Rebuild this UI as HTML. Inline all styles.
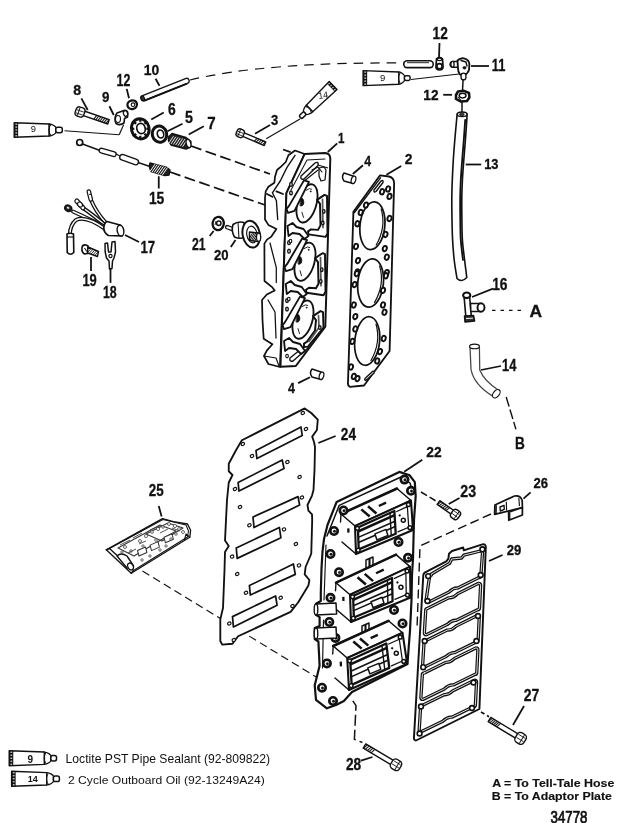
<!DOCTYPE html>
<html><head><meta charset="utf-8"><style>
html,body{margin:0;padding:0;background:#fff;}
svg{display:block;filter:grayscale(100%);}
text{font-family:"Liberation Sans", sans-serif;fill:#111;}
</style></head><body>
<svg width="640" height="823" viewBox="0 0 640 823">
<rect width="640" height="823" fill="#fff"/>
<path d="M190,80 Q265,62 404,63" fill="none" stroke="#111" stroke-width="1.2" stroke-dasharray="9.5 7"/>
<path d="M191,146 L270,174" fill="none" stroke="#111" stroke-width="1.7" stroke-dasharray="11 4.5"/>
<path d="M170,172 L265,205" fill="none" stroke="#111" stroke-width="1.7" stroke-dasharray="11 4.5"/>
<path d="M283,149.5 L302,156" fill="none" stroke="#111" stroke-width="1.7" stroke-dasharray="8 4"/>
<path d="M142.5,571 L317.5,677.8" fill="none" stroke="#111" stroke-width="1.15" stroke-dasharray="8 4.5"/>
<path d="M491,514 L420,546 L417,629" fill="none" stroke="#111" stroke-width="1.4" stroke-dasharray="9 4.5"/>
<path d="M352.8,700.8 L356,705.6 L354.4,739.3 L362.4,742.5" fill="none" stroke="#111" stroke-width="1.5" stroke-dasharray="11 4"/>
<path d="M481,712 L489,716.8" fill="none" stroke="#111" stroke-width="1.7" stroke-dasharray="4 3"/>
<path d="M421,492 L436,501" fill="none" stroke="#111" stroke-width="1.5" stroke-dasharray="7 3"/>
<path d="M492,310.4 L522,310.4" fill="none" stroke="#111" stroke-width="1.2" stroke-dasharray="3.5 5"/>
<path d="M506.2,397 L515.9,429.2" fill="none" stroke="#111" stroke-width="1.4" stroke-dasharray="10 3"/>
<line x1="143.5" y1="98" x2="186.5" y2="81" stroke="#111" stroke-width="6.6" stroke-linecap="round"/>
<line x1="143.5" y1="98" x2="186.5" y2="81" stroke="#fff" stroke-width="4.0" stroke-linecap="round"/>
<line x1="144" y1="100.8" x2="187" y2="83.6" stroke="#111" stroke-width="1.84"/>
<ellipse cx="142.8" cy="98.3" rx="1.6" ry="2.6" transform="rotate(-25 142.8 98.3)" fill="#333" stroke="#111" stroke-width="1.15"/>
<line x1="407.2" y1="64.2" x2="429.8" y2="64.2" stroke="#111" stroke-width="8.4" stroke-linecap="round"/>
<line x1="407.2" y1="64.2" x2="429.8" y2="64.2" stroke="#fff" stroke-width="5.2" stroke-linecap="round"/>
<line x1="407" y1="62.7" x2="429" y2="62.7" stroke="#111" stroke-width="0.92"/>
<path d="M436.5,59 Q439.5,56.5 442.5,59 L443,66 Q443.5,70 439.5,70 Q435.5,70 436,66 Z" fill="#fff" stroke="#111" stroke-width="1.72" stroke-linejoin="round" stroke-linecap="round" />
<ellipse cx="439.5" cy="66.2" rx="2.6" ry="2.6" transform="rotate(0 439.5 66.2)" fill="#fff" stroke="#111" stroke-width="1.61"/>
<ellipse cx="439.5" cy="59.3" rx="2.4" ry="1.3" transform="rotate(0 439.5 59.3)" fill="#fff" stroke="#111" stroke-width="1.26"/>
<line x1="453" y1="64.3" x2="457" y2="64.3" stroke="#111" stroke-width="7.2" stroke-linecap="round"/>
<line x1="453" y1="64.3" x2="457" y2="64.3" stroke="#fff" stroke-width="4.2" stroke-linecap="round"/>
<ellipse cx="452.5" cy="64.3" rx="1.6" ry="2.9" transform="rotate(0 452.5 64.3)" fill="#fff" stroke="#111" stroke-width="1.38"/>
<path d="M457.5,60.5 Q460,57.8 464,58.3 Q469,59.5 469.4,64 L469,70 Q467.5,74 464.5,75 L460,74.5 Q458,72 458,68.5 Z" fill="#fff" stroke="#111" stroke-width="1.84" stroke-linejoin="round" stroke-linecap="round" />
<path d="M461,60.5 L466,62 L467,66" fill="none" stroke="#111" stroke-width="1.38" stroke-linejoin="round" stroke-linecap="round" />
<ellipse cx="464.5" cy="67.8" rx="1.6" ry="1.3" transform="rotate(0 464.5 67.8)" fill="#111" stroke="#111" stroke-width="0.69"/>
<line x1="463.5" y1="75.5" x2="463.5" y2="77.5" stroke="#111" stroke-width="6.199999999999999" stroke-linecap="round"/>
<line x1="463.5" y1="75.5" x2="463.5" y2="77.5" stroke="#fff" stroke-width="3.4" stroke-linecap="round"/>
<line x1="463.1" y1="79.2" x2="462.5" y2="91" stroke="#111" stroke-width="1.49"/>
<path d="M456,95 L458,91.5 L464,90.8 L469,93 L469.4,97.5 L467,101 L460.5,101.4 L456,99 Z" fill="#fff" stroke="#111" stroke-width="2.53" stroke-linejoin="round" stroke-linecap="round" />
<ellipse cx="462.6" cy="95.6" rx="3.4" ry="2.3" transform="rotate(0 462.6 95.6)" fill="#fff" stroke="#111" stroke-width="1.49"/>
<line x1="458" y1="97" x2="461" y2="100.5" stroke="#111" stroke-width="1.15"/>
<g transform="rotate(0 363.1 70.6)"><path d="M363.1,70.6 L398.82000000000005,71.94999999999999 L398.82000000000005,84.25 L363.1,85.6 Z" fill="#fff" stroke="#111" stroke-width="1.4" stroke-linejoin="round"/><rect x="363.1" y="70.6" width="4.050000000000001" height="15" fill="#111"/><rect x="364.315" y="71.60" width="1.8225000000000005" height="1.0" fill="#fff"/><rect x="364.315" y="74.60" width="1.8225000000000005" height="1.0" fill="#fff"/><rect x="364.315" y="77.60" width="1.8225000000000005" height="1.0" fill="#fff"/><rect x="364.315" y="80.60" width="1.8225000000000005" height="1.0" fill="#fff"/><rect x="364.315" y="83.60" width="1.8225000000000005" height="1.0" fill="#fff"/><path d="M398.82000000000005,71.94999999999999 C401.64000000000004,71.94999999999999 404.46000000000004,75.19999999999999 404.46000000000004,75.69999999999999 L404.46000000000004,80.5 C404.46000000000004,81.0 401.64000000000004,84.25 398.82000000000005,84.25 Z" fill="#fff" stroke="#111" stroke-width="1.3" stroke-linejoin="round"/><path d="M400.32000000000005,72.74999999999999 C398.02000000000004,76.6 398.02000000000004,79.6 400.32000000000005,83.45" fill="none" stroke="#111" stroke-width="1.0"/><rect x="404.46000000000004" y="75.69999999999999" width="5.6400000000000015" height="4.8" rx="1.68" fill="#fff" stroke="#111" stroke-width="1.5"/><text x="382.74600000000004" y="81.425" font-size="9.5" text-anchor="middle" font-weight="normal">9</text></g>
<line x1="411" y1="79.5" x2="459" y2="74" stroke="#111" stroke-width="1.15"/>
<g transform="rotate(135.8 337 89.6)"><path d="M337,89.6 L369.904,90.60799999999999 L369.904,99.792 L337,100.8 Z" fill="#fff" stroke="#111" stroke-width="1.4" stroke-linejoin="round"/><rect x="337" y="89.6" width="3.024" height="11.2" fill="#111"/><rect x="337.9072" y="90.50" width="1.3608" height="1.0" fill="#fff"/><rect x="337.9072" y="93.30" width="1.3608" height="1.0" fill="#fff"/><rect x="337.9072" y="96.10" width="1.3608" height="1.0" fill="#fff"/><rect x="337.9072" y="98.90" width="1.3608" height="1.0" fill="#fff"/><path d="M369.904,90.60799999999999 C373.103,90.60799999999999 376.302,92.68399999999998 376.302,93.18399999999998 L376.302,97.216 C376.302,97.716 373.103,99.792 369.904,99.792 Z" fill="#fff" stroke="#111" stroke-width="1.3" stroke-linejoin="round"/><path d="M371.404,91.40799999999999 C369.104,94.08 369.104,96.32 371.404,98.992" fill="none" stroke="#111" stroke-width="1.0"/><rect x="376.302" y="93.18399999999998" width="6.397999999999999" height="4.032" rx="1.4112" fill="#fff" stroke="#111" stroke-width="1.5"/><text x="350.81968" y="98.35" font-size="9" text-anchor="middle" font-weight="normal" transform="rotate(-143.8 350.81968 95.19999999999999)">14</text></g>
<g transform="rotate(0 14.2 122.7)"><path d="M14.2,122.7 L49.216800000000006,124.014 L49.216800000000006,135.98600000000002 L14.2,137.3 Z" fill="#fff" stroke="#111" stroke-width="1.4" stroke-linejoin="round"/><rect x="14.2" y="122.7" width="3.942" height="14.6" fill="#111"/><rect x="15.3826" y="123.66" width="1.7739" height="1.0" fill="#fff"/><rect x="15.3826" y="126.58" width="1.7739" height="1.0" fill="#fff"/><rect x="15.3826" y="129.50" width="1.7739" height="1.0" fill="#fff"/><rect x="15.3826" y="132.42" width="1.7739" height="1.0" fill="#fff"/><rect x="15.3826" y="135.34" width="1.7739" height="1.0" fill="#fff"/><path d="M49.216800000000006,124.014 C52.51165,124.014 55.80650000000001,126.872 55.80650000000001,127.372 L55.80650000000001,132.628 C55.80650000000001,133.128 52.51165,135.98600000000002 49.216800000000006,135.98600000000002 Z" fill="#fff" stroke="#111" stroke-width="1.3" stroke-linejoin="round"/><path d="M50.716800000000006,124.814 C48.41680000000001,128.54 48.41680000000001,131.46 50.716800000000006,135.186" fill="none" stroke="#111" stroke-width="1.0"/><rect x="55.80650000000001" y="127.372" width="6.493499999999997" height="5.255999999999999" rx="1.8395999999999997" fill="#fff" stroke="#111" stroke-width="1.5"/><text x="33.319172800000004" y="131.59" font-size="9.4" text-anchor="middle" font-weight="normal">9</text></g>
<line x1="64.5" y1="130.75" x2="119.2" y2="134.7" stroke="#111" stroke-width="1.15"/>
<line x1="119.2" y1="134.7" x2="123.6" y2="124.8" stroke="#111" stroke-width="1.15"/>
<path d="M82.65646023573606,115.34562684947875 L107.752103251143,123.9750058512678 L109.247896748857,119.6249941487322 L84.15225373345007,110.99561514694315 Z" fill="#fff" stroke="#111" stroke-width="1.38" stroke-linejoin="round" stroke-linecap="round" />
<line x1="93.76343661964613" y1="119.16486785166536" x2="96.77227766606815" y2="115.33513214833464" stroke="#111" stroke-width="1.03"/>
<line x1="95.79915090536042" y1="119.86486785166537" x2="98.80799195178244" y2="116.03513214833464" stroke="#111" stroke-width="1.03"/>
<line x1="97.83486519107471" y1="120.56486785166537" x2="100.84370623749673" y2="116.73513214833464" stroke="#111" stroke-width="1.03"/>
<line x1="99.87057947678899" y1="121.26486785166536" x2="102.87942052321101" y2="117.43513214833463" stroke="#111" stroke-width="1.03"/>
<line x1="101.90629376250327" y1="121.96486785166536" x2="104.91513480892529" y2="118.13513214833463" stroke="#111" stroke-width="1.03"/>
<line x1="103.94200804821756" y1="122.66486785166536" x2="106.95084909463958" y2="118.83513214833464" stroke="#111" stroke-width="1.03"/>
<line x1="105.97772233393185" y1="123.36486785166537" x2="108.98656338035387" y2="119.53513214833464" stroke="#111" stroke-width="1.03"/>
<g transform="rotate(19.0 80 112)"><rect x="75.5" y="107.25" width="9" height="9.5" rx="3.15" fill="#fff" stroke="#111" stroke-width="1.4"/><line x1="78.65" y1="107.75" x2="78.65" y2="116.25" stroke="#111" stroke-width="0.9"/><line x1="76.5" y1="110.86" x2="83.5" y2="110.86" stroke="#111" stroke-width="0.8"/><line x1="76.5" y1="114.09" x2="83.5" y2="114.09" stroke="#111" stroke-width="0.8"/></g>
<path d="M117,113 L124,110.5 Q127,110 127.8,113 L127.5,117 L124.5,118.5 L124,123 Q120,126 116,123.5 Q113.5,118 117,113 Z" fill="#fff" stroke="#111" stroke-width="1.61" stroke-linejoin="round" stroke-linecap="round" />
<ellipse cx="125.5" cy="113.5" rx="2" ry="2.8" transform="rotate(-20 125.5 113.5)" fill="#fff" stroke="#111" stroke-width="1.26"/>
<ellipse cx="118" cy="119" rx="2.5" ry="3.5" transform="rotate(0 118 119)" fill="#fff" stroke="#111" stroke-width="1.15"/>
<ellipse cx="132.2" cy="104.7" rx="4.8" ry="4.3" transform="rotate(-15 132.2 104.7)" fill="#fff" stroke="#111" stroke-width="2.30"/>
<ellipse cx="133" cy="104.7" rx="1.8" ry="1.8" transform="rotate(0 133 104.7)" fill="#fff" stroke="#111" stroke-width="1.15"/>
<ellipse cx="140.3" cy="128.8" rx="8.8" ry="10.2" transform="rotate(-15 140.3 128.8)" fill="#fff" stroke="#111" stroke-width="2.99"/>
<ellipse cx="141" cy="128.5" rx="4.2" ry="5.2" transform="rotate(-15 141 128.5)" fill="#fff" stroke="#111" stroke-width="1.72"/>
<line x1="146.3" y1="128.8" x2="149.8" y2="128.8" stroke="#111" stroke-width="2.30"/>
<line x1="144.5426406871193" y1="133.74974746830586" x2="147.0175144212722" y2="136.43675323681472" stroke="#111" stroke-width="2.30"/>
<line x1="140.3" y1="135.8" x2="140.3" y2="139.60000000000002" stroke="#111" stroke-width="2.30"/>
<line x1="136.05735931288072" y1="133.74974746830586" x2="133.5824855787278" y2="136.43675323681472" stroke="#111" stroke-width="2.30"/>
<line x1="134.3" y1="128.8" x2="130.8" y2="128.8" stroke="#111" stroke-width="2.30"/>
<line x1="136.05735931288072" y1="123.85025253169418" x2="133.5824855787278" y2="121.1632467631853" stroke="#111" stroke-width="2.30"/>
<line x1="140.3" y1="121.80000000000001" x2="140.3" y2="118.00000000000001" stroke="#111" stroke-width="2.30"/>
<line x1="144.5426406871193" y1="123.85025253169418" x2="147.0175144212722" y2="121.1632467631853" stroke="#111" stroke-width="2.30"/>
<ellipse cx="159.5" cy="134.2" rx="7.2" ry="8.2" transform="rotate(-15 159.5 134.2)" fill="#fff" stroke="#111" stroke-width="2.99"/>
<ellipse cx="160.5" cy="134" rx="3.2" ry="4.0" transform="rotate(-15 160.5 134)" fill="#fff" stroke="#111" stroke-width="1.61"/>
<path d="M168.5,137 L172,133.5 L186,137.5 L191,141.5 L190.5,147 L186,149 L171,145 L168.5,141 Z" fill="#222" stroke="#111" stroke-width="1.38" stroke-linejoin="round" stroke-linecap="round" />
<line x1="168.81" y1="143.33" x2="173.47" y2="136.24" stroke="#fff" stroke-width="0.9"/>
<line x1="171.10" y1="143.90" x2="175.76" y2="136.82" stroke="#fff" stroke-width="0.9"/>
<line x1="173.39" y1="144.47" x2="178.04" y2="137.39" stroke="#fff" stroke-width="0.9"/>
<line x1="175.67" y1="145.04" x2="180.33" y2="137.96" stroke="#fff" stroke-width="0.9"/>
<line x1="177.96" y1="145.61" x2="182.61" y2="138.53" stroke="#fff" stroke-width="0.9"/>
<line x1="180.24" y1="146.18" x2="184.90" y2="139.10" stroke="#fff" stroke-width="0.9"/>
<line x1="182.53" y1="146.76" x2="187.19" y2="139.67" stroke="#fff" stroke-width="0.9"/>
<ellipse cx="188.5" cy="143.5" rx="2.2" ry="4.2" transform="rotate(-15 188.5 143.5)" fill="#fff" stroke="#111" stroke-width="1.26"/>
<circle cx="79.7" cy="142.5" r="3.0" fill="#fff" stroke="#111" stroke-width="1.72"/>
<line x1="82.5" y1="144" x2="100" y2="150.5" stroke="#111" stroke-width="1.38"/>
<line x1="101.5" y1="150.6" x2="113.8" y2="154.2" stroke="#111" stroke-width="5.9" stroke-linecap="round"/>
<line x1="101.5" y1="150.6" x2="113.8" y2="154.2" stroke="#fff" stroke-width="3.3" stroke-linecap="round"/>
<line x1="116" y1="154" x2="121" y2="156.5" stroke="#111" stroke-width="1.38"/>
<line x1="122.5" y1="157.3" x2="135.7" y2="162" stroke="#111" stroke-width="6.800000000000001" stroke-linecap="round"/>
<line x1="122.5" y1="157.3" x2="135.7" y2="162" stroke="#fff" stroke-width="4.2" stroke-linecap="round"/>
<line x1="138" y1="162.5" x2="150" y2="166.5" stroke="#111" stroke-width="1.38"/>
<path d="M150,163 L167,167.5 L170,170 L169,175 L165,175.5 L151,171.5 Q148.5,167 150,163 Z" fill="#222" stroke="#111" stroke-width="1.38" stroke-linejoin="round" stroke-linecap="round" />
<line x1="149.97" y1="171.49" x2="155.10" y2="164.08" stroke="#fff" stroke-width="1.0"/>
<line x1="152.04" y1="172.06" x2="157.17" y2="164.66" stroke="#fff" stroke-width="1.0"/>
<line x1="154.11" y1="172.63" x2="159.24" y2="165.23" stroke="#fff" stroke-width="1.0"/>
<line x1="156.19" y1="173.20" x2="161.31" y2="165.80" stroke="#fff" stroke-width="1.0"/>
<line x1="158.26" y1="173.77" x2="163.39" y2="166.37" stroke="#fff" stroke-width="1.0"/>
<line x1="160.33" y1="174.34" x2="165.46" y2="166.94" stroke="#fff" stroke-width="1.0"/>
<line x1="162.40" y1="174.92" x2="167.53" y2="167.51" stroke="#fff" stroke-width="1.0"/>
<path d="M106,223 Q96,212 91,200" fill="none" stroke="#111" stroke-width="3.91" stroke-linejoin="round" stroke-linecap="round" />
<path d="M106,223 Q96,212 91,200" fill="none" stroke="#fff" stroke-width="1.38" stroke-linejoin="round" stroke-linecap="round" />
<path d="M105.5,225.5 Q92,214 83,208" fill="none" stroke="#111" stroke-width="3.91" stroke-linejoin="round" stroke-linecap="round" />
<path d="M105.5,225.5 Q92,214 83,208" fill="none" stroke="#fff" stroke-width="1.38" stroke-linejoin="round" stroke-linecap="round" />
<path d="M105.5,227 Q85,217 73,211.5" fill="none" stroke="#111" stroke-width="3.91" stroke-linejoin="round" stroke-linecap="round" />
<path d="M105.5,227 Q85,217 73,211.5" fill="none" stroke="#fff" stroke-width="1.38" stroke-linejoin="round" stroke-linecap="round" />
<path d="M106,229.5 Q86,215 76,220 Q70,225 69.8,235" fill="none" stroke="#111" stroke-width="4.14" stroke-linejoin="round" stroke-linecap="round" />
<path d="M106,229.5 Q86,215 76,220 Q70,225 69.8,235" fill="none" stroke="#fff" stroke-width="1.49" stroke-linejoin="round" stroke-linecap="round" />
<line x1="88.8" y1="191.5" x2="90.8" y2="199.5" stroke="#111" stroke-width="4.6" stroke-linecap="round"/>
<line x1="88.8" y1="191.5" x2="90.8" y2="199.5" stroke="#fff" stroke-width="2.2" stroke-linecap="round"/>
<line x1="89.2" y1="194.5" x2="91.2" y2="194" stroke="#111" stroke-width="1.15"/>
<line x1="76.8" y1="201" x2="83" y2="207.8" stroke="#111" stroke-width="5.0" stroke-linecap="round"/>
<line x1="76.8" y1="201" x2="83" y2="207.8" stroke="#fff" stroke-width="2.6" stroke-linecap="round"/>
<ellipse cx="80" cy="204.5" rx="2.2" ry="2.8" transform="rotate(-40 80 204.5)" fill="#fff" stroke="#111" stroke-width="1.15"/>
<ellipse cx="68.2" cy="208.2" rx="3.6" ry="3.0" transform="rotate(30 68.2 208.2)" fill="#222" stroke="#111" stroke-width="1.38"/>
<ellipse cx="68" cy="207.8" rx="1.5" ry="1.1" transform="rotate(30 68 207.8)" fill="#fff" stroke="#111" stroke-width="0.46"/>
<path d="M67,234 Q70,232.5 73.5,234 L73.8,252.5 Q70.5,256 67.2,252.5 Z" fill="#fff" stroke="#111" stroke-width="1.61" stroke-linejoin="round" stroke-linecap="round" />
<line x1="67.2" y1="237" x2="73.6" y2="237" stroke="#111" stroke-width="1.15"/>
<path d="M107,221.5 L120,225 Q125,229 122,235.8 L108.5,235.5 Q104,233 103.8,228 Q104,223 107,221.5 Z" fill="#fff" stroke="#111" stroke-width="1.72" stroke-linejoin="round" stroke-linecap="round" />
<ellipse cx="120.5" cy="230.6" rx="3.3" ry="5.5" transform="rotate(-10 120.5 230.6)" fill="#fff" stroke="#111" stroke-width="1.49"/>
<path d="M82,247.5 Q82.5,244.5 86,245 L88,246 L87.5,253.5 L84.5,254 Q81.3,252 82,247.5 Z" fill="#fff" stroke="#111" stroke-width="1.61" stroke-linejoin="round" stroke-linecap="round" />
<path d="M88,247 L98.5,251.5 L97.5,256.5 L87.5,253 Z" fill="#fff" stroke="#111" stroke-width="1.38" stroke-linejoin="round" stroke-linecap="round" />
<line x1="87.59" y1="252.33" x2="91.21" y2="248.47" stroke="#111" stroke-width="0.9"/>
<line x1="89.39" y1="253.13" x2="93.01" y2="249.27" stroke="#111" stroke-width="0.9"/>
<line x1="91.19" y1="253.93" x2="94.81" y2="250.07" stroke="#111" stroke-width="0.9"/>
<line x1="92.99" y1="254.73" x2="96.61" y2="250.87" stroke="#111" stroke-width="0.9"/>
<line x1="94.79" y1="255.53" x2="98.41" y2="251.67" stroke="#111" stroke-width="0.9"/>
<line x1="84.5" y1="248" x2="86.8" y2="251.5" stroke="#111" stroke-width="1.03"/>
<path d="M105,243.5 L107.5,243 L108.5,252 L111,252 L112,242 L115,241.5 L115.5,252 L114,258 L112.5,261 L112,268.5 L109.5,269 L109,261 L106.5,258 L105.2,252 Z" fill="#fff" stroke="#111" stroke-width="1.49" stroke-linejoin="round" stroke-linecap="round" />
<circle cx="110.5" cy="256" r="1.6" fill="#fff" stroke="#111" stroke-width="1.15"/>
<ellipse cx="218.2" cy="223.5" rx="5.6" ry="6.6" transform="rotate(10 218.2 223.5)" fill="#fff" stroke="#111" stroke-width="2.30"/>
<circle cx="218.8" cy="223.2" r="2.2" fill="#fff" stroke="#111" stroke-width="1.49"/>
<line x1="216" y1="221" x2="215" y2="225" stroke="#111" stroke-width="0.92"/>
<line x1="227.2" y1="227.2" x2="231.8" y2="228.8" stroke="#111" stroke-width="4.6" stroke-linecap="round"/>
<line x1="227.2" y1="227.2" x2="231.8" y2="228.8" stroke="#fff" stroke-width="2.0" stroke-linecap="round"/>
<path d="M233,224.5 Q238,221 244,222.5 L245.5,237 Q240,239.5 234.5,237 Q231,231 233,224.5 Z" fill="#fff" stroke="#111" stroke-width="1.61" stroke-linejoin="round" stroke-linecap="round" />
<line x1="238" y1="222" x2="239" y2="238.5" stroke="#111" stroke-width="1.03"/>
<ellipse cx="251.2" cy="234.2" rx="8.6" ry="13.5" transform="rotate(-10 251.2 234.2)" fill="#fff" stroke="#111" stroke-width="1.95"/>
<ellipse cx="252" cy="234.5" rx="5.2" ry="8.4" transform="rotate(-10 252 234.5)" fill="#fff" stroke="#111" stroke-width="1.15"/>
<path d="M249.5,232 L258.5,233 Q262.5,237 258.5,241.5 L249.5,240.5 Z" fill="#fff" stroke="#111" stroke-width="1.49" stroke-linejoin="round" stroke-linecap="round" />
<line x1="248.56" y1="240.06" x2="252.94" y2="232.20" stroke="#111" stroke-width="1.0"/>
<line x1="250.06" y1="240.32" x2="254.44" y2="232.46" stroke="#111" stroke-width="1.0"/>
<line x1="251.56" y1="240.58" x2="255.94" y2="232.72" stroke="#111" stroke-width="1.0"/>
<line x1="253.06" y1="240.84" x2="257.44" y2="232.98" stroke="#111" stroke-width="1.0"/>
<line x1="254.56" y1="241.10" x2="258.94" y2="233.24" stroke="#111" stroke-width="1.0"/>
<ellipse cx="258.6" cy="237.2" rx="2.1" ry="4.2" transform="rotate(0 258.6 237.2)" fill="#fff" stroke="#111" stroke-width="1.26"/>
<path d="M242.1554062884969,136.15643133640995 L264.2336029431675,145.59307990655145 L265.7663970568325,142.00692009344857 L243.6882004021618,132.57027152330707 Z" fill="#fff" stroke="#111" stroke-width="1.38" stroke-linejoin="round" stroke-linecap="round" />
<line x1="254.12358041740285" y1="141.27186060118427" x2="257.12761958259716" y2="138.31453939881575" stroke="#111" stroke-width="1.03"/>
<line x1="256.2067804174028" y1="142.16226060118427" x2="259.2108195825972" y2="139.20493939881575" stroke="#111" stroke-width="1.03"/>
<line x1="258.2899804174028" y1="143.05266060118427" x2="261.2940195825972" y2="140.09533939881575" stroke="#111" stroke-width="1.03"/>
<line x1="260.3731804174028" y1="143.94306060118427" x2="263.3772195825972" y2="140.98573939881575" stroke="#111" stroke-width="1.03"/>
<line x1="262.4563804174028" y1="144.83346060118427" x2="265.4604195825972" y2="141.87613939881575" stroke="#111" stroke-width="1.03"/>
<g transform="rotate(23.1 240.2 133.2)"><rect x="236.5" y="129.1" width="7.4" height="8.2" rx="2.59" fill="#fff" stroke="#111" stroke-width="1.4"/><line x1="239.09" y1="129.6" x2="239.09" y2="136.79999999999998" stroke="#111" stroke-width="0.9"/><line x1="237.5" y1="132.21599999999998" x2="242.89999999999998" y2="132.21599999999998" stroke="#111" stroke-width="0.8"/><line x1="237.5" y1="135.004" x2="242.89999999999998" y2="135.004" stroke="#111" stroke-width="0.8"/></g>
<line x1="266.25" y1="138.75" x2="300" y2="119" stroke="#111" stroke-width="1.15"/>
<path d="M304.6,154 L295,150.5 L288.4,155.3 L285.75,162 L281,166.7 L277,170 L275,176.7 L274.4,182.75 L268.4,186.8 L265.7,191.4 L265,198 L265,219.5 L268.4,224.9 L276.4,228.9 L271,236.9 L267,239.6 L264.4,243.6 L264.5,281 L272.4,287.4 L274.7,290.5 L266.8,294.5 L262,300 L262.5,320 L263.7,338.7 L272.4,344.3 L266.8,350.6 L264,356 L268.4,364 L280,367 L286.4,193.2 Z" fill="#fff" stroke="#111" stroke-width="1.72" stroke-linejoin="round" stroke-linecap="round" />
<path d="M295,155.3 L287,167.4 L280.4,180.75 L272.4,192.8 L276.4,200.8 L277.7,219.5" fill="none" stroke="#111" stroke-width="1.38" stroke-linejoin="round" stroke-linecap="round" />
<path d="M270,243 L276.3,267.6 L276.3,282.6" fill="none" stroke="#111" stroke-width="1.26" stroke-linejoin="round" stroke-linecap="round" />
<path d="M268,300 L275,312 L276,338" fill="none" stroke="#111" stroke-width="1.26" stroke-linejoin="round" stroke-linecap="round" />
<path d="M264,356 L276,358 L279,366" fill="none" stroke="#111" stroke-width="1.15" stroke-linejoin="round" stroke-linecap="round" />
<path d="M267,194 L272.4,196.8" fill="none" stroke="#111" stroke-width="1.84" stroke-linejoin="round" stroke-linecap="round" />
<path d="M276.4,191.4 L283,194" fill="none" stroke="#111" stroke-width="1.84" stroke-linejoin="round" stroke-linecap="round" />
<path d="M304.6,154 L325,153 Q330.5,153.5 330.3,159 L325.3,326.7 L295.8,366 L280.5,366.8 L286.4,193.2 Z" fill="#fff" stroke="#111" stroke-width="1.95" stroke-linejoin="round" stroke-linecap="round" />
<path d="M291,190 L307,160 L325,159" fill="none" stroke="#111" stroke-width="1.03" stroke-linejoin="round" stroke-linecap="round" />
<path d="M301,176 L315,163 Q319,161 318,165.5 L304,179 Q300,180 301,176 Z" fill="#fff" stroke="#111" stroke-width="1.38" stroke-linejoin="round" stroke-linecap="round" />
<path d="M303,182 L318,170" fill="none" stroke="#111" stroke-width="1.15" stroke-linejoin="round" stroke-linecap="round" />
<path d="M290,358 L306,345 Q310,343 308,348 L293,361 Q289,362 290,358 Z" fill="#fff" stroke="#111" stroke-width="1.38" stroke-linejoin="round" stroke-linecap="round" />
<ellipse cx="307" cy="203.4" rx="9.4" ry="19.7" transform="rotate(16 307 203.4)" fill="#fff" stroke="#111" stroke-width="1.84"/>
<path d="M306,190.4 Q310,187.4 312,189.4" fill="none" stroke="#111" stroke-width="0.9"/>
<path d="M300.5,197.9 Q303.5,197.4 303.8,202.4 Q303.5,206.4 300.5,205.9 Z" fill="#111" stroke="#111" stroke-width="0.92" stroke-linejoin="round" stroke-linecap="round" />
<circle cx="310.7" cy="191.4" r="0.7" fill="#111" stroke="#111" stroke-width="0.46"/>
<path d="M302,212.4 L303.5,217.4" fill="none" stroke="#111" stroke-width="0.92" stroke-linejoin="round" stroke-linecap="round" />
<path d="M304,180.4 L309,181.9 L294.5,210.9 L288,212.9 L286.5,208.9 L289,205.9 Z" fill="#fff" stroke="#111" stroke-width="1.84" stroke-linejoin="round" stroke-linecap="round" />
<path d="M317,199.9 L324.5,194.9 L327,195.9 L327.5,233.4 L325.5,236.9 L308.5,234.4 L308,231.4 L311,229.4 L318,229.9 L320.5,225.4 L320,203.9 Z" fill="#fff" stroke="#111" stroke-width="1.95" stroke-linejoin="round" stroke-linecap="round" />
<path d="M322.5,199.4 L323,227.4" fill="none" stroke="#555" stroke-width="1.72" stroke-linejoin="round" stroke-linecap="round" />
<ellipse cx="291" cy="184.4" rx="1.3" ry="1.9" transform="rotate(0 291 184.4)" fill="#fff" stroke="#111" stroke-width="1.38"/>
<ellipse cx="291" cy="192.9" rx="1.3" ry="1.9" transform="rotate(0 291 192.9)" fill="#fff" stroke="#111" stroke-width="1.38"/>
<ellipse cx="323.8" cy="211.4" rx="1.2" ry="1.8" transform="rotate(0 323.8 211.4)" fill="#fff" stroke="#111" stroke-width="1.38"/>
<ellipse cx="322.8" cy="223.1" rx="1.2" ry="1.8" transform="rotate(0 322.8 223.1)" fill="#fff" stroke="#111" stroke-width="1.38"/>
<ellipse cx="305" cy="261.7" rx="9.4" ry="19.7" transform="rotate(16 305 261.7)" fill="#fff" stroke="#111" stroke-width="1.84"/>
<path d="M304,248.7 Q308,245.7 310,247.7" fill="none" stroke="#111" stroke-width="0.9"/>
<path d="M298.5,256.2 Q301.5,255.7 301.8,260.7 Q301.5,264.7 298.5,264.2 Z" fill="#111" stroke="#111" stroke-width="0.92" stroke-linejoin="round" stroke-linecap="round" />
<circle cx="308.7" cy="249.7" r="0.7" fill="#111" stroke="#111" stroke-width="0.46"/>
<path d="M300,270.7 L301.5,275.7" fill="none" stroke="#111" stroke-width="0.92" stroke-linejoin="round" stroke-linecap="round" />
<path d="M302,238.7 L307,240.2 L292.5,269.2 L286,271.2 L284.5,267.2 L287,264.2 Z" fill="#fff" stroke="#111" stroke-width="1.84" stroke-linejoin="round" stroke-linecap="round" />
<path d="M315,258.2 L322.5,253.2 L325,254.2 L325.5,291.7 L323.5,295.2 L306.5,292.7 L306,289.7 L309,287.7 L316,288.2 L318.5,283.7 L318,262.2 Z" fill="#fff" stroke="#111" stroke-width="1.95" stroke-linejoin="round" stroke-linecap="round" />
<path d="M320.5,257.7 L321,285.7" fill="none" stroke="#555" stroke-width="1.72" stroke-linejoin="round" stroke-linecap="round" />
<ellipse cx="289" cy="242.7" rx="1.3" ry="1.9" transform="rotate(0 289 242.7)" fill="#fff" stroke="#111" stroke-width="1.38"/>
<ellipse cx="289" cy="251.2" rx="1.3" ry="1.9" transform="rotate(0 289 251.2)" fill="#fff" stroke="#111" stroke-width="1.38"/>
<ellipse cx="321.8" cy="269.7" rx="1.2" ry="1.8" transform="rotate(0 321.8 269.7)" fill="#fff" stroke="#111" stroke-width="1.38"/>
<ellipse cx="320.8" cy="281.4" rx="1.2" ry="1.8" transform="rotate(0 320.8 281.4)" fill="#fff" stroke="#111" stroke-width="1.38"/>
<ellipse cx="303" cy="319.6" rx="9.4" ry="19.7" transform="rotate(16 303 319.6)" fill="#fff" stroke="#111" stroke-width="1.84"/>
<path d="M302,306.6 Q306,303.6 308,305.6" fill="none" stroke="#111" stroke-width="0.9"/>
<path d="M296.5,314.1 Q299.5,313.6 299.8,318.6 Q299.5,322.6 296.5,322.1 Z" fill="#111" stroke="#111" stroke-width="0.92" stroke-linejoin="round" stroke-linecap="round" />
<circle cx="306.7" cy="307.6" r="0.7" fill="#111" stroke="#111" stroke-width="0.46"/>
<path d="M298,328.6 L299.5,333.6" fill="none" stroke="#111" stroke-width="0.92" stroke-linejoin="round" stroke-linecap="round" />
<path d="M300,296.6 L305,298.1 L290.5,327.1 L284,329.1 L282.5,325.1 L285,322.1 Z" fill="#fff" stroke="#111" stroke-width="1.84" stroke-linejoin="round" stroke-linecap="round" />
<path d="M313,316.1 L320.5,311.1 L323,312.1 L323.5,327.6 L308,346.6 L304,347.1 L304,343.6 L307,341.6 L315,330.6 L316,320.1 Z" fill="#fff" stroke="#111" stroke-width="1.95" stroke-linejoin="round" stroke-linecap="round" />
<path d="M318.5,315.6 L319,327.6 L309,341.6" fill="none" stroke="#555" stroke-width="1.72" stroke-linejoin="round" stroke-linecap="round" />
<ellipse cx="287" cy="300.6" rx="1.3" ry="1.9" transform="rotate(0 287 300.6)" fill="#fff" stroke="#111" stroke-width="1.38"/>
<ellipse cx="287" cy="309.1" rx="1.3" ry="1.9" transform="rotate(0 287 309.1)" fill="#fff" stroke="#111" stroke-width="1.38"/>
<ellipse cx="319.8" cy="327.6" rx="1.2" ry="1.8" transform="rotate(0 319.8 327.6)" fill="#fff" stroke="#111" stroke-width="1.38"/>
<path d="M319,168 L324,167 L326,170 L325,180 L321,181 L319,176 Z" fill="#fff" stroke="#111" stroke-width="1.26" stroke-linejoin="round" stroke-linecap="round" />
<path d="M312,170 L318,167 L322,172" fill="none" stroke="#111" stroke-width="1.15" stroke-linejoin="round" stroke-linecap="round" />
<line x1="318" y1="165" x2="328" y2="168" stroke="#111" stroke-width="1.15"/>
<path d="M344,173 L353,176 Q356,180 353,183.5 L344,181 Q341,177 344,173 Z" fill="#fff" stroke="#111" stroke-width="1.49" stroke-linejoin="round" stroke-linecap="round" />
<ellipse cx="353.5" cy="179.8" rx="2.2" ry="3.8" transform="rotate(15 353.5 179.8)" fill="#fff" stroke="#111" stroke-width="1.26"/>
<path d="M312,369 L321,372 Q324,376 321,379.5 L312,377 Q309,373 312,369 Z" fill="#fff" stroke="#111" stroke-width="1.49" stroke-linejoin="round" stroke-linecap="round" />
<ellipse cx="321.5" cy="375.8" rx="2.2" ry="3.8" transform="rotate(15 321.5 375.8)" fill="#fff" stroke="#111" stroke-width="1.26"/>
<path d="M287.5,226 L292.5,223 L296.5,227 L303.5,229 L308.5,236 L304.5,239 L299.5,234 L292.5,233 L288.5,236 Z" fill="#fff" stroke="#111" stroke-width="1.84" stroke-linejoin="round" stroke-linecap="round" />
<ellipse cx="290.5" cy="241" rx="1.3" ry="1.8" transform="rotate(0 290.5 241)" fill="#fff" stroke="#111" stroke-width="1.15"/>
<path d="M285.76,284 L290.76,281 L294.76,285 L301.76,287 L306.76,294 L302.76,297 L297.76,292 L290.76,291 L286.76,294 Z" fill="#fff" stroke="#111" stroke-width="1.84" stroke-linejoin="round" stroke-linecap="round" />
<ellipse cx="288.76" cy="299" rx="1.3" ry="1.8" transform="rotate(0 288.76 299)" fill="#fff" stroke="#111" stroke-width="1.15"/>
<path d="M284.05,341 L289.05,338 L293.05,342 L300.05,344 L305.05,351 L301.05,354 L296.05,349 L289.05,348 L285.05,351 Z" fill="#fff" stroke="#111" stroke-width="1.84" stroke-linejoin="round" stroke-linecap="round" />
<ellipse cx="287.05" cy="356" rx="1.3" ry="1.8" transform="rotate(0 287.05 356)" fill="#fff" stroke="#111" stroke-width="1.15"/>
<path d="M380.1,175.3 L389,176.5 Q394.5,178 394.1,184 L389.6,351 L364,385.5 L350,386.8 Q347.5,386 348,382 L353.4,211.8 Z" fill="#fff" stroke="#111" stroke-width="1.84" stroke-linejoin="round" stroke-linecap="round" />
<path d="M380.5,177.8 L354.5,212.5" fill="none" stroke="#111" stroke-width="1.38" stroke-linejoin="round" stroke-linecap="round" />
<ellipse cx="372.4" cy="225.8" rx="12.4" ry="24" transform="rotate(6 372.4 225.8)" fill="#fff" stroke="#111" stroke-width="1.72"/>
<path d="M379.21999999999997,207.8 Q386.65999999999997,225.8 377.97999999999996,245.0" fill="none" stroke="#111" stroke-width="1.2" transform="rotate(6 372.4 225.8)"/>
<ellipse cx="370.6" cy="283" rx="12.8" ry="24.2" transform="rotate(6 370.6 283)" fill="#fff" stroke="#111" stroke-width="1.72"/>
<path d="M377.64000000000004,264.85 Q385.32000000000005,283 376.36,302.36" fill="none" stroke="#111" stroke-width="1.2" transform="rotate(6 370.6 283)"/>
<ellipse cx="367.2" cy="341" rx="12.4" ry="24.4" transform="rotate(6 367.2 341)" fill="#fff" stroke="#111" stroke-width="1.72"/>
<path d="M374.02,322.7 Q381.46,341 372.78,360.52" fill="none" stroke="#111" stroke-width="1.2" transform="rotate(6 367.2 341)"/>
<ellipse cx="382.1" cy="191.7" rx="2.0" ry="2.7" transform="rotate(15 382.1 191.7)" fill="#fff" stroke="#111" stroke-width="1.95"/>
<ellipse cx="388.1" cy="189" rx="2.0" ry="2.7" transform="rotate(15 388.1 189)" fill="#fff" stroke="#111" stroke-width="1.95"/>
<ellipse cx="389.5" cy="196.4" rx="2.0" ry="2.7" transform="rotate(15 389.5 196.4)" fill="#fff" stroke="#111" stroke-width="1.95"/>
<ellipse cx="366" cy="205.1" rx="2.0" ry="2.7" transform="rotate(15 366 205.1)" fill="#fff" stroke="#111" stroke-width="1.95"/>
<ellipse cx="360.7" cy="212.5" rx="2.0" ry="2.7" transform="rotate(15 360.7 212.5)" fill="#fff" stroke="#111" stroke-width="1.95"/>
<ellipse cx="357.4" cy="223.8" rx="2.0" ry="2.7" transform="rotate(15 357.4 223.8)" fill="#fff" stroke="#111" stroke-width="1.95"/>
<ellipse cx="389.5" cy="218.5" rx="2.0" ry="2.7" transform="rotate(15 389.5 218.5)" fill="#fff" stroke="#111" stroke-width="1.95"/>
<ellipse cx="385.5" cy="234.5" rx="2.0" ry="2.7" transform="rotate(15 385.5 234.5)" fill="#fff" stroke="#111" stroke-width="1.95"/>
<ellipse cx="356" cy="246.5" rx="2.0" ry="2.7" transform="rotate(15 356 246.5)" fill="#fff" stroke="#111" stroke-width="1.95"/>
<ellipse cx="384.8" cy="248.6" rx="2.0" ry="2.7" transform="rotate(15 384.8 248.6)" fill="#fff" stroke="#111" stroke-width="1.95"/>
<ellipse cx="386.8" cy="257.2" rx="2.0" ry="2.7" transform="rotate(15 386.8 257.2)" fill="#fff" stroke="#111" stroke-width="1.95"/>
<ellipse cx="358" cy="260.6" rx="2.0" ry="2.7" transform="rotate(15 358 260.6)" fill="#fff" stroke="#111" stroke-width="1.95"/>
<ellipse cx="357.4" cy="272" rx="2.0" ry="2.7" transform="rotate(15 357.4 272)" fill="#fff" stroke="#111" stroke-width="1.95"/>
<ellipse cx="386.8" cy="272.6" rx="2.0" ry="2.7" transform="rotate(15 386.8 272.6)" fill="#fff" stroke="#111" stroke-width="1.95"/>
<ellipse cx="356.8" cy="273.6" rx="2.0" ry="2.7" transform="rotate(15 356.8 273.6)" fill="#fff" stroke="#111" stroke-width="1.95"/>
<ellipse cx="354.6" cy="284.6" rx="2.0" ry="2.7" transform="rotate(15 354.6 284.6)" fill="#fff" stroke="#111" stroke-width="1.95"/>
<ellipse cx="353.8" cy="305" rx="2.0" ry="2.7" transform="rotate(15 353.8 305)" fill="#fff" stroke="#111" stroke-width="1.95"/>
<ellipse cx="355.3" cy="316.6" rx="2.0" ry="2.7" transform="rotate(15 355.3 316.6)" fill="#fff" stroke="#111" stroke-width="1.95"/>
<ellipse cx="355.3" cy="329" rx="2.0" ry="2.7" transform="rotate(15 355.3 329)" fill="#fff" stroke="#111" stroke-width="1.95"/>
<ellipse cx="352.4" cy="341.4" rx="2.0" ry="2.7" transform="rotate(15 352.4 341.4)" fill="#fff" stroke="#111" stroke-width="1.95"/>
<ellipse cx="351" cy="367" rx="2.0" ry="2.7" transform="rotate(15 351 367)" fill="#fff" stroke="#111" stroke-width="1.95"/>
<ellipse cx="353.8" cy="376.4" rx="2.0" ry="2.7" transform="rotate(15 353.8 376.4)" fill="#fff" stroke="#111" stroke-width="1.95"/>
<ellipse cx="357.5" cy="378.6" rx="2.0" ry="2.7" transform="rotate(15 357.5 378.6)" fill="#fff" stroke="#111" stroke-width="1.95"/>
<ellipse cx="385.9" cy="275.8" rx="2.0" ry="2.7" transform="rotate(15 385.9 275.8)" fill="#fff" stroke="#111" stroke-width="1.95"/>
<ellipse cx="383" cy="290.4" rx="2.0" ry="2.7" transform="rotate(15 383 290.4)" fill="#fff" stroke="#111" stroke-width="1.95"/>
<ellipse cx="383" cy="305" rx="2.0" ry="2.7" transform="rotate(15 383 305)" fill="#fff" stroke="#111" stroke-width="1.95"/>
<ellipse cx="384.5" cy="312.3" rx="2.0" ry="2.7" transform="rotate(15 384.5 312.3)" fill="#fff" stroke="#111" stroke-width="1.95"/>
<ellipse cx="383.7" cy="338.5" rx="2.0" ry="2.7" transform="rotate(15 383.7 338.5)" fill="#fff" stroke="#111" stroke-width="1.95"/>
<ellipse cx="380" cy="351.6" rx="2.0" ry="2.7" transform="rotate(15 380 351.6)" fill="#fff" stroke="#111" stroke-width="1.95"/>
<ellipse cx="377.2" cy="361" rx="2.0" ry="2.7" transform="rotate(15 377.2 361)" fill="#fff" stroke="#111" stroke-width="1.95"/>
<path d="M374,190 L381,181 Q383.5,179.5 383,182.5 L376,191.5 Q373.5,193 374,190 Z" fill="#fff" stroke="#111" stroke-width="1.38" stroke-linejoin="round" stroke-linecap="round" />
<path d="M365,378.5 L372.5,371.5 Q375,370.5 374,373 L366.5,380 Q364,381 365,378.5 Z" fill="#fff" stroke="#111" stroke-width="1.38" stroke-linejoin="round" stroke-linecap="round" />
<path d="M457.2,114 C457.10,115.00 457.00,115.67 456.6,120 C456.20,124.33 455.35,133.33 454.8,140 C454.25,146.67 453.72,153.33 453.3,160 C452.88,166.67 452.55,173.67 452.3,180 C452.05,186.33 451.85,191.33 451.8,198 C451.75,204.67 451.87,213.00 452,220 C452.13,227.00 452.23,233.33 452.6,240 C452.97,246.67 453.47,253.58 454.2,260 C454.93,266.42 456.53,275.42 457,278.5 Q461.5,283 466.8,277.5 C466.43,274.58 465.33,266.25 464.6,260 C463.87,253.75 462.85,246.67 462.4,240 C461.95,233.33 462.00,227.00 461.9,220 C461.80,213.00 461.72,204.67 461.8,198 C461.88,191.33 462.07,186.33 462.4,180 C462.73,173.67 463.30,166.67 463.8,160 C464.30,153.33 464.90,146.67 465.4,140 C465.90,133.33 466.53,124.33 466.8,120 C467.07,115.67 466.97,115.00 467,114 Z" fill="#fff" stroke="#111" stroke-width="1.61" stroke-linejoin="round" stroke-linecap="round" />
<path d="M465.2,120 C464.97,123.33 464.30,133.33 463.79999999999995,140 C463.30,146.67 462.70,153.33 462.2,160 C461.70,166.67 461.13,173.67 460.79999999999995,180 C460.47,186.33 460.28,191.33 460.2,198 C460.12,204.67 460.20,213.00 460.29999999999995,220 C460.40,227.00 460.35,233.33 460.79999999999995,240 C461.25,246.67 462.63,256.67 463.0,260" fill="none" stroke="#111" stroke-width="1.84" stroke-linejoin="round" stroke-linecap="round" />
<ellipse cx="462.1" cy="114.2" rx="4.9" ry="2.3" transform="rotate(0 462.1 114.2)" fill="#fff" stroke="#111" stroke-width="1.49"/>
<ellipse cx="461.8" cy="114.4" rx="2.4" ry="1.2" transform="rotate(0 461.8 114.4)" fill="#333" stroke="#111" stroke-width="0.69"/>
<line x1="462" y1="101.5" x2="462" y2="112" stroke="#111" stroke-width="1.49"/>
<path d="M464,296 L469.5,295.5 L471.5,318 L466,318.5 Z" fill="#fff" stroke="#111" stroke-width="1.61" stroke-linejoin="round" stroke-linecap="round" />
<path d="M470.5,303.5 L480,303.5 L480,311.5 L470.8,311.5 Z" fill="#fff" stroke="#111" stroke-width="1.61" stroke-linejoin="round" stroke-linecap="round" />
<ellipse cx="481" cy="307.5" rx="3.5" ry="4.2" transform="rotate(0 481 307.5)" fill="#fff" stroke="#111" stroke-width="1.95"/>
<ellipse cx="466.7" cy="295.3" rx="3.6" ry="2.8" transform="rotate(0 466.7 295.3)" fill="#fff" stroke="#111" stroke-width="2.07"/>
<path d="M464.5,316 L473.5,315.5 L474.6,321 L465,322 Z" fill="#333" stroke="#111" stroke-width="1.49" stroke-linejoin="round" stroke-linecap="round" />
<line x1="466" y1="318.5" x2="473" y2="318.2" stroke="#fff" stroke-width="0.92"/>
<path d="M470,347 L471,369.4 Q474,385 493.4,396.6 L499.6,391 Q484,381 479.75,370 L479.4,347 Z" fill="#fff" stroke="#444" stroke-width="1.26" stroke-linejoin="round" stroke-linecap="round" />
<ellipse cx="474.5" cy="346.4" rx="4.9" ry="2.3" transform="rotate(0 474.5 346.4)" fill="#fff" stroke="#111" stroke-width="1.15"/>
<ellipse cx="496.3" cy="393.7" rx="3.0" ry="4.8" transform="rotate(40 496.3 393.7)" fill="#fff" stroke="#111" stroke-width="1.15"/>
<path d="M304.7,408.4 L311.25,413 L317.8,419.7 L316.9,430 L312.2,436.6 L314,442 L315,447 L314.5,470 L313.5,490 L312,495.6 L307.5,505 L308.4,510.6 L312,514.4 L312.2,520 L311.25,553.75 L305.6,567 L304.7,574.4 L309.4,580 L308.4,585.6 L298.1,602.5 L290.6,611.9 L238.1,636.25 L232.5,643.75 L222.2,644.7 L220.3,641 L220.3,619.4 L223,608 L224.5,570 L225,552 L228.75,546 L225,540.6 L226,520 L227,500 L228.75,482.5 L232.5,475 L228.75,471.25 L228.75,463.75 L236.25,449.7 L241.9,440.3 Z" fill="#fff" stroke="#111" stroke-width="1.84" stroke-linejoin="round" stroke-linecap="round" />
<path d="M256,450.6 L301,427 L302.25,435.6 L256.9,458.5 Z" fill="#fff" stroke="#111" stroke-width="1.72" stroke-linejoin="round" stroke-linecap="round" />
<path d="M238.1,482.5 L282.2,460 L284,468.4 L239,491 Z" fill="#fff" stroke="#111" stroke-width="1.72" stroke-linejoin="round" stroke-linecap="round" />
<path d="M253,517 L298,496.6 L299.6,505 L254,527.5 Z" fill="#fff" stroke="#111" stroke-width="1.72" stroke-linejoin="round" stroke-linecap="round" />
<path d="M236.25,548 L279.4,527.5 L280.9,537.8 L237.2,558.4 Z" fill="#fff" stroke="#111" stroke-width="1.72" stroke-linejoin="round" stroke-linecap="round" />
<path d="M249.4,585.6 L293.4,564 L295.3,574.4 L250.3,595 Z" fill="#fff" stroke="#111" stroke-width="1.72" stroke-linejoin="round" stroke-linecap="round" />
<path d="M232.5,616.6 L275.6,596 L277.1,605.3 L233.4,626.9 Z" fill="#fff" stroke="#111" stroke-width="1.72" stroke-linejoin="round" stroke-linecap="round" />
<ellipse cx="302.8" cy="413" rx="1.8" ry="1.5" transform="rotate(-30 302.8 413)" fill="#fff" stroke="#111" stroke-width="1.15"/>
<ellipse cx="306" cy="429" rx="1.8" ry="1.5" transform="rotate(-30 306 429)" fill="#fff" stroke="#111" stroke-width="1.15"/>
<ellipse cx="242.8" cy="444" rx="1.8" ry="1.5" transform="rotate(-30 242.8 444)" fill="#fff" stroke="#111" stroke-width="1.15"/>
<ellipse cx="252" cy="456" rx="1.8" ry="1.5" transform="rotate(-30 252 456)" fill="#fff" stroke="#111" stroke-width="1.15"/>
<ellipse cx="287.4" cy="462" rx="1.8" ry="1.5" transform="rotate(-30 287.4 462)" fill="#fff" stroke="#111" stroke-width="1.15"/>
<ellipse cx="299.6" cy="477" rx="1.8" ry="1.5" transform="rotate(-30 299.6 477)" fill="#fff" stroke="#111" stroke-width="1.15"/>
<ellipse cx="235" cy="489" rx="1.8" ry="1.5" transform="rotate(-30 235 489)" fill="#fff" stroke="#111" stroke-width="1.15"/>
<ellipse cx="240" cy="507" rx="1.8" ry="1.5" transform="rotate(-30 240 507)" fill="#fff" stroke="#111" stroke-width="1.15"/>
<ellipse cx="301.9" cy="497.5" rx="1.8" ry="1.5" transform="rotate(-30 301.9 497.5)" fill="#fff" stroke="#111" stroke-width="1.15"/>
<ellipse cx="249.4" cy="525.2" rx="1.8" ry="1.5" transform="rotate(-30 249.4 525.2)" fill="#fff" stroke="#111" stroke-width="1.15"/>
<ellipse cx="284" cy="529.4" rx="1.8" ry="1.5" transform="rotate(-30 284 529.4)" fill="#fff" stroke="#111" stroke-width="1.15"/>
<ellipse cx="295.9" cy="544" rx="1.8" ry="1.5" transform="rotate(-30 295.9 544)" fill="#fff" stroke="#111" stroke-width="1.15"/>
<ellipse cx="232.1" cy="556.6" rx="1.8" ry="1.5" transform="rotate(-30 232.1 556.6)" fill="#fff" stroke="#111" stroke-width="1.15"/>
<ellipse cx="237.2" cy="574" rx="1.8" ry="1.5" transform="rotate(-30 237.2 574)" fill="#fff" stroke="#111" stroke-width="1.15"/>
<ellipse cx="299" cy="565.4" rx="1.8" ry="1.5" transform="rotate(-30 299 565.4)" fill="#fff" stroke="#111" stroke-width="1.15"/>
<ellipse cx="246" cy="592.75" rx="1.8" ry="1.5" transform="rotate(-30 246 592.75)" fill="#fff" stroke="#111" stroke-width="1.15"/>
<ellipse cx="280.7" cy="597.8" rx="1.8" ry="1.5" transform="rotate(-30 280.7 597.8)" fill="#fff" stroke="#111" stroke-width="1.15"/>
<ellipse cx="292.5" cy="606" rx="1.8" ry="1.5" transform="rotate(-30 292.5 606)" fill="#fff" stroke="#111" stroke-width="1.15"/>
<ellipse cx="229.3" cy="623.5" rx="1.8" ry="1.5" transform="rotate(-30 229.3 623.5)" fill="#fff" stroke="#111" stroke-width="1.15"/>
<ellipse cx="233.8" cy="640" rx="1.8" ry="1.5" transform="rotate(-30 233.8 640)" fill="#fff" stroke="#111" stroke-width="1.15"/>
<path d="M336.6,502 L399.3,471.9 L409.7,475.3 L414.8,482.2 L415.7,496 L414,520 L413,558.5 L412,575 L411.5,600 L410,630.7 L408.5,650 L407.5,664 L352,692 L343.9,701 L336.6,704.7 L326.9,708.3 L316,699.8 L314.7,685.2 L317.2,675.5 L319.6,665.8 L318.4,641.5 L314.7,639 L314.7,628 L319.6,626 L319.6,617.2 L316,614.8 L316,603.8 L320.8,601 L320.8,593 L321.5,568.6 L322.5,551.6 L324,539 L327.5,525 Z" fill="#fff" stroke="#111" stroke-width="2.18" stroke-linejoin="round" stroke-linecap="round" />
<path d="M327,536 L339.2,505.4 L401,477 L410,483 L412.5,491" fill="none" stroke="#111" stroke-width="1.49" stroke-linejoin="round" stroke-linecap="round" />
<path d="M326,545 L324,600 M323.5,620 L322.5,668" fill="none" stroke="#111" stroke-width="1.15" stroke-linejoin="round" stroke-linecap="round" />
<path d="M366,560 L373,557 L373,572 L366,575 Z" fill="#fff" stroke="#111" stroke-width="1.49" stroke-linejoin="round" stroke-linecap="round" />
<line x1="369.5" y1="559" x2="369.5" y2="573" stroke="#111" stroke-width="2.07"/>
<path d="M362,626 L369,623 L369,638 L362,641 Z" fill="#fff" stroke="#111" stroke-width="1.49" stroke-linejoin="round" stroke-linecap="round" />
<line x1="365.5" y1="625" x2="365.5" y2="639" stroke="#111" stroke-width="2.07"/>
<path d="M355,526 L356,554 L342,542 L341,514 Z" fill="#fff" stroke="#fff" stroke-width="0.01" stroke-linejoin="round" stroke-linecap="round" />
<path d="M356,554 L342,542" fill="none" stroke="#111" stroke-width="1.49" stroke-linejoin="round" stroke-linecap="round" />
<path d="M341,514 L340.5,522" fill="none" stroke="#111" stroke-width="1.38" stroke-linejoin="round" stroke-linecap="round" />
<path d="M355,526 L411,500.5 L397,488.5 L341,514 Z" fill="#fff" stroke="#111" stroke-width="1.49" stroke-linejoin="round" stroke-linecap="round" />
<path d="M341,514 L397,488.5" fill="none" stroke="#111" stroke-width="2.53" stroke-linejoin="round" stroke-linecap="round" />
<line x1="369.7" y1="516.5500000000001" x2="361.3" y2="509.35" stroke="#111" stroke-width="2.53"/>
<line x1="376.41999999999996" y1="513.49" x2="368.02" y2="506.29" stroke="#111" stroke-width="2.53"/>
<line x1="378.8" y1="505.975" x2="386.08" y2="502.66" stroke="#111" stroke-width="2.30"/>
<line x1="348.3" y1="528.4" x2="348.45" y2="532.6" stroke="#111" stroke-width="2.30"/>
<path d="M355,526 L411,500.5 L413,530 L356,554 Z" fill="#fff" stroke="#111" stroke-width="2.07" stroke-linejoin="round" stroke-linecap="round" />
<path d="M357.90500000000003,527.5325 L394.37,511.055 L395.69599999999997,533.714 L358.72400000000005,549.4309999999999 Z" fill="#fff" stroke="#111" stroke-width="2.30" stroke-linejoin="round" stroke-linecap="round" />
<line x1="358.05242000000004" y1="531.47423" x2="394.60868" y2="515.1336200000001" stroke="#111" stroke-width="2.53"/>
<line x1="358.27355000000006" y1="537.3868249999999" x2="394.9667" y2="521.2515500000001" stroke="#111" stroke-width="1.61"/>
<line x1="358.46192" y1="542.4234799999999" x2="395.27168" y2="526.46312" stroke="#111" stroke-width="1.61"/>
<line x1="389.99420000000003" y1="513.0323" x2="391.25935999999996" y2="535.60004" stroke="#111" stroke-width="1.38"/>
<path d="M374.963483,533.9068745 L385.963483,529.4068745 L387.963483,535.4068745 L376.963483,539.9068745 Z" fill="#fff" stroke="#111" stroke-width="1.49" stroke-linejoin="round" stroke-linecap="round" />
<path d="M396.701,511.49649999999997 L407.36949999999996,506.69425 L408.7205,527.2707499999999 L397.919,531.8735" fill="none" stroke="#111" stroke-width="1.26" stroke-linejoin="round" stroke-linecap="round" />
<circle cx="403.311725" cy="520.1723374999999" r="2.0" fill="#fff" stroke="#111" stroke-width="1.49"/>
<circle cx="399.705875" cy="515.4400625" r="0.9" fill="#111" stroke="#111" stroke-width="0.46"/>
<circle cx="357.3648" cy="528.3472" r="1.9" fill="#fff" stroke="#111" stroke-width="1.49"/>
<circle cx="408.395" cy="504.7175" r="1.9" fill="#fff" stroke="#111" stroke-width="1.49"/>
<circle cx="358.176" cy="550.2339999999999" r="1.9" fill="#fff" stroke="#111" stroke-width="1.49"/>
<circle cx="409.916" cy="527.669" r="1.9" fill="#fff" stroke="#111" stroke-width="1.49"/>
<path d="M350,594.7 L351,622 L337,610 L336,582.7 Z" fill="#fff" stroke="#fff" stroke-width="0.01" stroke-linejoin="round" stroke-linecap="round" />
<path d="M351,622 L337,610" fill="none" stroke="#111" stroke-width="1.49" stroke-linejoin="round" stroke-linecap="round" />
<path d="M336,582.7 L335.5,590.7" fill="none" stroke="#111" stroke-width="1.38" stroke-linejoin="round" stroke-linecap="round" />
<path d="M350,594.7 L410,566.6 L396,554.6 L336,582.7 Z" fill="#fff" stroke="#111" stroke-width="1.49" stroke-linejoin="round" stroke-linecap="round" />
<path d="M336,582.7 L396,554.6" fill="none" stroke="#111" stroke-width="2.53" stroke-linejoin="round" stroke-linecap="round" />
<line x1="365.9" y1="584.47" x2="357.5" y2="577.27" stroke="#111" stroke-width="2.53"/>
<line x1="373.09999999999997" y1="581.0980000000001" x2="364.7" y2="573.898" stroke="#111" stroke-width="2.53"/>
<line x1="376.0" y1="573.245" x2="383.8" y2="569.592" stroke="#111" stroke-width="2.30"/>
<line x1="343.3" y1="596.89" x2="343.45" y2="600.985" stroke="#111" stroke-width="2.30"/>
<path d="M350,594.7 L410,566.6 L410.5,597.5 L351,622 Z" fill="#fff" stroke="#111" stroke-width="2.07" stroke-linejoin="round" stroke-linecap="round" />
<path d="M353.0975,596.0430000000001 L392.065,578.012 L392.572,601.2716 L353.858,617.4774 Z" fill="#fff" stroke="#111" stroke-width="2.30" stroke-linejoin="round" stroke-linecap="round" />
<line x1="353.23439" y1="599.9011920000002" x2="392.15626" y2="582.198728" stroke="#111" stroke-width="2.53"/>
<line x1="353.439725" y1="605.68848" x2="392.29315" y2="588.47882" stroke="#111" stroke-width="1.61"/>
<line x1="353.61464" y1="610.6183920000001" x2="392.40976" y2="593.828528" stroke="#111" stroke-width="1.61"/>
<line x1="387.3889" y1="580.17572" x2="387.92632" y2="603.216296" stroke="#111" stroke-width="1.38"/>
<path d="M371.0336585,601.7276088000001 L382.0336585,597.2276088000001 L384.0336585,603.2276088000001 L373.0336585,607.7276088000001 Z" fill="#fff" stroke="#111" stroke-width="1.49" stroke-linejoin="round" stroke-linecap="round" />
<path d="M394.49449999999996,578.4006 L405.88025,573.1642 L406.25475,594.6178 L394.9355,599.3754" fill="none" stroke="#111" stroke-width="1.26" stroke-linejoin="round" stroke-linecap="round" />
<circle cx="400.96263749999997" cy="587.32006" r="2.0" fill="#fff" stroke="#111" stroke-width="1.49"/>
<circle cx="397.43456249999997" cy="582.4549000000001" r="0.9" fill="#111" stroke="#111" stroke-width="0.46"/>
<circle cx="352.51759999999996" cy="596.86928" r="1.9" fill="#fff" stroke="#111" stroke-width="1.49"/>
<circle cx="407.0525" cy="571.077" r="1.9" fill="#fff" stroke="#111" stroke-width="1.49"/>
<circle cx="353.282" cy="618.2755999999999" r="1.9" fill="#fff" stroke="#111" stroke-width="1.49"/>
<circle cx="407.462" cy="595.0386" r="1.9" fill="#fff" stroke="#111" stroke-width="1.49"/>
<path d="M347.2,658 L349,690 L335,678 L333.2,646 Z" fill="#fff" stroke="#fff" stroke-width="0.01" stroke-linejoin="round" stroke-linecap="round" />
<path d="M349,690 L335,678" fill="none" stroke="#111" stroke-width="1.49" stroke-linejoin="round" stroke-linecap="round" />
<path d="M333.2,646 L332.7,654" fill="none" stroke="#111" stroke-width="1.38" stroke-linejoin="round" stroke-linecap="round" />
<path d="M347.2,658 L402.5,632.8 L388.5,620.8 L333.2,646 Z" fill="#fff" stroke="#111" stroke-width="1.49" stroke-linejoin="round" stroke-linecap="round" />
<path d="M333.2,646 L388.5,620.8" fill="none" stroke="#111" stroke-width="2.53" stroke-linejoin="round" stroke-linecap="round" />
<line x1="361.68999999999994" y1="648.64" x2="353.28999999999996" y2="641.4399999999999" stroke="#111" stroke-width="2.53"/>
<line x1="368.32599999999996" y1="645.616" x2="359.926" y2="638.4159999999999" stroke="#111" stroke-width="2.53"/>
<line x1="370.615" y1="638.14" x2="377.804" y2="634.8639999999999" stroke="#111" stroke-width="2.30"/>
<line x1="340.74" y1="661.6" x2="341.01" y2="666.4" stroke="#111" stroke-width="2.30"/>
<path d="M347.2,658 L402.5,632.8 L407.2,663.8 L349,690 Z" fill="#fff" stroke="#111" stroke-width="2.07" stroke-linejoin="round" stroke-linecap="round" />
<path d="M350.1595,659.9350000000001 L386.29299999999995,643.49 L389.2804,667.904 L351.6766,684.856 Z" fill="#fff" stroke="#111" stroke-width="2.30" stroke-linejoin="round" stroke-linecap="round" />
<line x1="350.432578" y1="664.42078" x2="386.83073199999995" y2="647.88452" stroke="#111" stroke-width="2.53"/>
<line x1="350.842195" y1="671.14945" x2="387.63732999999996" y2="654.4763" stroke="#111" stroke-width="1.61"/>
<line x1="351.191128" y1="676.8812800000001" x2="388.324432" y2="660.09152" stroke="#111" stroke-width="1.61"/>
<line x1="381.95697999999993" y1="645.4634" x2="384.767944" y2="669.93824" stroke="#111" stroke-width="1.38"/>
<path d="M367.77039069999995,667.8443169999999 L378.77039069999995,663.3443169999999 L380.77039069999995,669.3443169999999 L369.77039069999995,673.8443169999999 Z" fill="#fff" stroke="#111" stroke-width="1.49" stroke-linejoin="round" stroke-linecap="round" />
<path d="M388.7139,644.0409999999999 L399.30355000000003,639.2244999999999 L402.45144999999997,660.9735000000001 L391.4761,665.923" fill="none" stroke="#111" stroke-width="1.26" stroke-linejoin="round" stroke-linecap="round" />
<circle cx="396.2695525" cy="653.353875" r="2.0" fill="#fff" stroke="#111" stroke-width="1.49"/>
<circle cx="392.14828750000004" cy="648.2741249999999" r="0.9" fill="#111" stroke="#111" stroke-width="0.46"/>
<circle cx="349.64191999999997" cy="660.8272" r="1.9" fill="#fff" stroke="#111" stroke-width="1.49"/>
<circle cx="400.1905" cy="637.165" r="1.9" fill="#fff" stroke="#111" stroke-width="1.49"/>
<circle cx="351.1364" cy="685.756" r="1.9" fill="#fff" stroke="#111" stroke-width="1.49"/>
<circle cx="403.74339999999995" cy="661.3839999999999" r="1.9" fill="#fff" stroke="#111" stroke-width="1.49"/>
<circle cx="334" cy="531" r="3.7" fill="#fff" stroke="#111" stroke-width="2.64"/>
<circle cx="334.5" cy="531.3" r="1.3" fill="#111" stroke="#111" stroke-width="0.34"/>
<circle cx="330.5" cy="554" r="3.7" fill="#fff" stroke="#111" stroke-width="2.64"/>
<circle cx="331.0" cy="554.3" r="1.3" fill="#111" stroke="#111" stroke-width="0.34"/>
<circle cx="339" cy="572.2" r="3.7" fill="#fff" stroke="#111" stroke-width="2.64"/>
<circle cx="339.5" cy="572.5" r="1.3" fill="#111" stroke="#111" stroke-width="0.34"/>
<circle cx="330.5" cy="597.8" r="3.7" fill="#fff" stroke="#111" stroke-width="2.64"/>
<circle cx="331.0" cy="598.0999999999999" r="1.3" fill="#111" stroke="#111" stroke-width="0.34"/>
<circle cx="329.3" cy="622" r="3.7" fill="#fff" stroke="#111" stroke-width="2.64"/>
<circle cx="329.8" cy="622.3" r="1.3" fill="#111" stroke="#111" stroke-width="0.34"/>
<circle cx="335.4" cy="637.9" r="3.7" fill="#fff" stroke="#111" stroke-width="2.64"/>
<circle cx="335.9" cy="638.1999999999999" r="1.3" fill="#111" stroke="#111" stroke-width="0.34"/>
<circle cx="326.9" cy="663.4" r="3.7" fill="#fff" stroke="#111" stroke-width="2.64"/>
<circle cx="327.4" cy="663.6999999999999" r="1.3" fill="#111" stroke="#111" stroke-width="0.34"/>
<circle cx="322" cy="687.7" r="3.7" fill="#fff" stroke="#111" stroke-width="2.64"/>
<circle cx="322.5" cy="688.0" r="1.3" fill="#111" stroke="#111" stroke-width="0.34"/>
<circle cx="333" cy="701" r="3.7" fill="#fff" stroke="#111" stroke-width="2.64"/>
<circle cx="333.5" cy="701.3" r="1.3" fill="#111" stroke="#111" stroke-width="0.34"/>
<circle cx="343.5" cy="510.5" r="3.7" fill="#fff" stroke="#111" stroke-width="2.64"/>
<circle cx="344.0" cy="510.8" r="1.3" fill="#111" stroke="#111" stroke-width="0.34"/>
<circle cx="404.5" cy="479.6" r="3.7" fill="#fff" stroke="#111" stroke-width="2.64"/>
<circle cx="405.0" cy="479.90000000000003" r="1.3" fill="#111" stroke="#111" stroke-width="0.34"/>
<circle cx="411" cy="490.8" r="3.7" fill="#fff" stroke="#111" stroke-width="2.64"/>
<circle cx="411.5" cy="491.1" r="1.3" fill="#111" stroke="#111" stroke-width="0.34"/>
<circle cx="408" cy="557.8" r="3.7" fill="#fff" stroke="#111" stroke-width="2.64"/>
<circle cx="408.5" cy="558.0999999999999" r="1.3" fill="#111" stroke="#111" stroke-width="0.34"/>
<circle cx="394" cy="610" r="3.7" fill="#fff" stroke="#111" stroke-width="2.64"/>
<circle cx="394.5" cy="610.3" r="1.3" fill="#111" stroke="#111" stroke-width="0.34"/>
<circle cx="402.5" cy="623.5" r="3.7" fill="#fff" stroke="#111" stroke-width="2.64"/>
<circle cx="403.0" cy="623.8" r="1.3" fill="#111" stroke="#111" stroke-width="0.34"/>
<circle cx="398.5" cy="542" r="3.7" fill="#fff" stroke="#111" stroke-width="2.64"/>
<circle cx="399.0" cy="542.3" r="1.3" fill="#111" stroke="#111" stroke-width="0.34"/>
<path d="M316,604 L336,603 L336.6,614 L316,615 Z" fill="#fff" stroke="#111" stroke-width="1.49" stroke-linejoin="round" stroke-linecap="round" />
<ellipse cx="316" cy="609.5" rx="1.8" ry="5.5" transform="rotate(0 316 609.5)" fill="#fff" stroke="#111" stroke-width="1.38"/>
<path d="M316,628 L336,627 L336.6,638 L316,639 Z" fill="#fff" stroke="#111" stroke-width="1.49" stroke-linejoin="round" stroke-linecap="round" />
<ellipse cx="316" cy="633.5" rx="1.8" ry="5.5" transform="rotate(0 316 633.5)" fill="#fff" stroke="#111" stroke-width="1.38"/>
<path d="M423.3,575 Q424,572 426.6,571.7 L446.3,561.3 L448.4,558.6 L449,553.7 L452,551 L463.2,547.5 L463.75,550.4 L482.4,544.4 Q486,543.8 485.8,547.5 L479.4,709 L416,740.5 Q413.5,740.5 414,737 Z" fill="#fff" stroke="#111" stroke-width="1.95" stroke-linejoin="round" stroke-linecap="round" />
<path d="M431.5,574 L449.5,563.4 L451.7,559 L461.6,558 L463.75,555.2 L480.5,551 Q482.5,551 482.5,553 L480.845,575.5 Q480.845,577.5 478.845,577.5 L457.82795000000004,588.0 Q453.44375,587.5 449.05955,592.0 L428.0425,602.5 Q426.0425,602.5 426.0425,600.5 L429.5,577 Q429.5,575 431.5,575 Z" fill="#fff" stroke="#111" stroke-width="3.33" stroke-linejoin="round" stroke-linecap="round" />
<path d="M431.5,574 L449.5,563.4 L451.7,559 L461.6,558 L463.75,555.2 L480.5,551 Q482.5,551 482.5,553 L480.845,575.5 Q480.845,577.5 478.845,577.5 L457.82795000000004,588.0 Q453.44375,587.5 449.05955,592.0 L428.0425,602.5 Q426.0425,602.5 426.0425,600.5 L429.5,577 Q429.5,575 431.5,575 Z" fill="none" stroke="#fff" stroke-width="0.86" stroke-linejoin="round" stroke-linecap="round" />
<path d="M427.7351,608.3 L448.778946,597.8 Q453.16825,598.3 457.557554,593.8 L478.6014,583.3 Q480.6014,583.3 480.6014,585.3 L479.4884,607.8 Q479.4884,609.8 477.4884,609.8 L456.32212400000003,620.3 Q451.9095,619.8 447.496876,624.3 L426.3306,634.8 Q424.3306,634.8 424.3306,632.8 L425.7351,610.3 Q425.7351,608.3 427.7351,608.3 Z" fill="#fff" stroke="#111" stroke-width="3.33" stroke-linejoin="round" stroke-linecap="round" />
<path d="M427.7351,608.3 L448.778946,597.8 Q453.16825,598.3 457.557554,593.8 L478.6014,583.3 Q480.6014,583.3 480.6014,585.3 L479.4884,607.8 Q479.4884,609.8 477.4884,609.8 L456.32212400000003,620.3 Q451.9095,619.8 447.496876,624.3 L426.3306,634.8 Q424.3306,634.8 424.3306,632.8 L425.7351,610.3 Q425.7351,608.3 427.7351,608.3 Z" fill="none" stroke="#fff" stroke-width="0.86" stroke-linejoin="round" stroke-linecap="round" />
<path d="M426.0232,640.6 L447.216272,630.1 Q451.634,630.6 456.05172799999997,626.1 L477.2448,615.6 Q479.2448,615.6 479.2448,617.6 L478.1318,640.1 Q478.1318,642.1 476.1318,642.1 L454.81629799999996,652.6 Q450.37524999999994,652.1 445.93420199999997,656.6 L424.6187,667.1 Q422.6187,667.1 422.6187,665.1 L424.0232,642.6 Q424.0232,640.6 426.0232,640.6 Z" fill="#fff" stroke="#111" stroke-width="3.33" stroke-linejoin="round" stroke-linecap="round" />
<path d="M426.0232,640.6 L447.216272,630.1 Q451.634,630.6 456.05172799999997,626.1 L477.2448,615.6 Q479.2448,615.6 479.2448,617.6 L478.1318,640.1 Q478.1318,642.1 476.1318,642.1 L454.81629799999996,652.6 Q450.37524999999994,652.1 445.93420199999997,656.6 L424.6187,667.1 Q422.6187,667.1 422.6187,665.1 L424.0232,642.6 Q424.0232,640.6 426.0232,640.6 Z" fill="none" stroke="#fff" stroke-width="0.86" stroke-linejoin="round" stroke-linecap="round" />
<path d="M424.3113,672.9 L445.653598,662.4 Q450.09975,662.9 454.545902,658.4 L475.8882,647.9 Q477.8882,647.9 477.8882,649.9 L476.7752,672.4 Q476.7752,674.4 474.7752,674.4 L453.310472,684.9 Q448.841,684.4 444.37152799999996,688.9 L422.9068,699.4 Q420.9068,699.4 420.9068,697.4 L422.3113,674.9 Q422.3113,672.9 424.3113,672.9 Z" fill="#fff" stroke="#111" stroke-width="3.33" stroke-linejoin="round" stroke-linecap="round" />
<path d="M424.3113,672.9 L445.653598,662.4 Q450.09975,662.9 454.545902,658.4 L475.8882,647.9 Q477.8882,647.9 477.8882,649.9 L476.7752,672.4 Q476.7752,674.4 474.7752,674.4 L453.310472,684.9 Q448.841,684.4 444.37152799999996,688.9 L422.9068,699.4 Q420.9068,699.4 420.9068,697.4 L422.3113,674.9 Q422.3113,672.9 424.3113,672.9 Z" fill="none" stroke="#fff" stroke-width="0.86" stroke-linejoin="round" stroke-linecap="round" />
<path d="M422.5994,705.2 L444.09092400000003,694.7 Q448.56550000000004,695.2 453.040076,690.7 L474.5316,680.2 Q476.5316,680.2 476.5316,682.2 L475.41859999999997,704.7 Q475.41859999999997,706.7 473.41859999999997,706.7 L451.804646,717.2 Q447.30674999999997,716.7 442.808854,721.2 L421.1949,731.7 Q419.1949,731.7 419.1949,729.7 L420.5994,707.2 Q420.5994,705.2 422.5994,705.2 Z" fill="#fff" stroke="#111" stroke-width="3.33" stroke-linejoin="round" stroke-linecap="round" />
<path d="M422.5994,705.2 L444.09092400000003,694.7 Q448.56550000000004,695.2 453.040076,690.7 L474.5316,680.2 Q476.5316,680.2 476.5316,682.2 L475.41859999999997,704.7 Q475.41859999999997,706.7 473.41859999999997,706.7 L451.804646,717.2 Q447.30674999999997,716.7 442.808854,721.2 L421.1949,731.7 Q419.1949,731.7 419.1949,729.7 L420.5994,707.2 Q420.5994,705.2 422.5994,705.2 Z" fill="none" stroke="#fff" stroke-width="0.86" stroke-linejoin="round" stroke-linecap="round" />
<circle cx="482.4" cy="549.3" r="2.4" fill="#fff" stroke="#111" stroke-width="1.61"/>
<circle cx="428.2" cy="576.1" r="2.4" fill="#fff" stroke="#111" stroke-width="1.61"/>
<circle cx="480.7" cy="575" r="2.4" fill="#fff" stroke="#111" stroke-width="1.61"/>
<circle cx="427.5" cy="601" r="2.4" fill="#fff" stroke="#111" stroke-width="1.61"/>
<circle cx="478" cy="616" r="2.4" fill="#fff" stroke="#111" stroke-width="1.61"/>
<circle cx="424.7" cy="641" r="2.4" fill="#fff" stroke="#111" stroke-width="1.61"/>
<circle cx="476.4" cy="641" r="2.4" fill="#fff" stroke="#111" stroke-width="1.61"/>
<circle cx="423.2" cy="667.2" r="2.4" fill="#fff" stroke="#111" stroke-width="1.61"/>
<circle cx="473.5" cy="682.5" r="2.4" fill="#fff" stroke="#111" stroke-width="1.61"/>
<circle cx="421" cy="706.5" r="2.4" fill="#fff" stroke="#111" stroke-width="1.61"/>
<circle cx="472" cy="708" r="2.4" fill="#fff" stroke="#111" stroke-width="1.61"/>
<circle cx="419.6" cy="733.5" r="2.4" fill="#fff" stroke="#111" stroke-width="1.61"/>
<path d="M106.25,549.8 L162.5,518.6 L173.4,521.7 L187.5,524 L190.6,530.3 L189.8,537.3 L184.4,540.5 L131.25,573.3 Z" fill="#fff" stroke="#111" stroke-width="1.32" stroke-linejoin="round" stroke-linecap="round" />
<path d="M106.25,549.8 L109.5,548.5 L133.5,570.5 L131.25,573.3" fill="none" stroke="#111" stroke-width="1.38" stroke-linejoin="round" stroke-linecap="round" />
<path d="M109.5,548.5 L163,519.5 L186,525 L188.5,531 L187.5,537 L133.5,570.5" fill="none" stroke="#111" stroke-width="1.03" stroke-linejoin="round" stroke-linecap="round" />
<path d="M118,548 L160,525 L176,531 L134,556 Z" fill="none" stroke="#333" stroke-width="1.03" stroke-linejoin="round" stroke-linecap="round" />
<path d="M146,534 L168,523 L183,528 L162,541 Z" fill="none" stroke="#333" stroke-width="1.03" stroke-linejoin="round" stroke-linecap="round" />
<path d="M137.5,550.5 L145.5,547 L146.9,552.5 L139.0,556 Z" fill="#fff" stroke="#333" stroke-width="1.03" stroke-linejoin="round" stroke-linecap="round" />
<path d="M150,545.1 L158,541.6 L159.4,547.1 L151.5,550.6 Z" fill="#fff" stroke="#333" stroke-width="1.03" stroke-linejoin="round" stroke-linecap="round" />
<path d="M164,537.3 L172,533.8 L173.4,539.3 L165.5,542.8 Z" fill="#fff" stroke="#333" stroke-width="1.03" stroke-linejoin="round" stroke-linecap="round" />
<circle cx="125" cy="547" r="1.5" fill="#fff" stroke="#444" stroke-width="0.8"/>
<circle cx="131" cy="551" r="1.3" fill="#fff" stroke="#444" stroke-width="0.8"/>
<circle cx="140" cy="541" r="1.5" fill="#fff" stroke="#444" stroke-width="0.8"/>
<circle cx="146" cy="536" r="1.6" fill="#fff" stroke="#444" stroke-width="0.8"/>
<circle cx="152" cy="532" r="1.4" fill="#fff" stroke="#444" stroke-width="0.8"/>
<circle cx="158" cy="529" r="1.6" fill="#fff" stroke="#444" stroke-width="0.8"/>
<circle cx="163" cy="527" r="1.3" fill="#fff" stroke="#444" stroke-width="0.8"/>
<circle cx="169" cy="524" r="1.5" fill="#fff" stroke="#444" stroke-width="0.8"/>
<circle cx="175" cy="526" r="1.6" fill="#fff" stroke="#444" stroke-width="0.8"/>
<circle cx="179" cy="529" r="1.4" fill="#fff" stroke="#444" stroke-width="0.8"/>
<circle cx="176" cy="534" r="1.3" fill="#fff" stroke="#444" stroke-width="0.8"/>
<circle cx="183" cy="532" r="1.5" fill="#fff" stroke="#444" stroke-width="0.8"/>
<circle cx="171" cy="539" r="1.2" fill="#fff" stroke="#444" stroke-width="0.8"/>
<circle cx="143" cy="546" r="1.2" fill="#fff" stroke="#444" stroke-width="0.8"/>
<circle cx="156" cy="540" r="1.3" fill="#fff" stroke="#444" stroke-width="0.8"/>
<circle cx="122" cy="552" r="1.2" fill="#fff" stroke="#444" stroke-width="0.8"/>
<circle cx="166" cy="546" r="1.2" fill="#fff" stroke="#444" stroke-width="0.8"/>
<circle cx="160" cy="550" r="1.2" fill="#fff" stroke="#444" stroke-width="0.8"/>
<circle cx="150" cy="556" r="1.2" fill="#fff" stroke="#444" stroke-width="0.8"/>
<circle cx="142" cy="560" r="1.2" fill="#fff" stroke="#444" stroke-width="0.8"/>
<line x1="120" y1="545" x2="130" y2="540" stroke="#444" stroke-width="0.92"/>
<line x1="133" y1="538" x2="142" y2="533" stroke="#444" stroke-width="0.92"/>
<line x1="150" y1="530" x2="160" y2="526" stroke="#444" stroke-width="0.92"/>
<line x1="128" y1="553" x2="136" y2="549" stroke="#444" stroke-width="0.92"/>
<line x1="160" y1="533" x2="168" y2="529" stroke="#444" stroke-width="0.92"/>
<line x1="172" y1="528" x2="180" y2="531" stroke="#444" stroke-width="0.92"/>
<line x1="139" y1="544" x2="146" y2="541" stroke="#444" stroke-width="0.92"/>
<path d="M117,556 Q121,552 127,556 L133.6,566 Q131,570 127,568 Z" fill="#fff" stroke="#111" stroke-width="1.38" stroke-linejoin="round" stroke-linecap="round" />
<ellipse cx="130.5" cy="566.5" rx="2.6" ry="3.6" transform="rotate(-30 130.5 566.5)" fill="#fff" stroke="#111" stroke-width="1.26"/>
<path d="M184.4,540.5 L186,534 L189.8,537.3" fill="none" stroke="#111" stroke-width="1.15" stroke-linejoin="round" stroke-linecap="round" />
<path d="M454.04868061937674,510.66025104265566 L439.8263713544769,500.62097391449106 L437.1736286455231,504.37902608550894 L451.3959379104229,514.4183032136735 Z" fill="#fff" stroke="#111" stroke-width="1.38" stroke-linejoin="round" stroke-linecap="round" />
<line x1="449.82994564508874" y1="507.68232047257" x2="445.8700543549113" y2="510.51767952743006" stroke="#111" stroke-width="1.03"/>
<line x1="448.1299456450887" y1="506.48232047256994" x2="444.17005435491126" y2="509.31767952743" stroke="#111" stroke-width="1.03"/>
<line x1="446.4299456450887" y1="505.28232047256995" x2="442.47005435491127" y2="508.11767952743" stroke="#111" stroke-width="1.03"/>
<line x1="444.7299456450887" y1="504.08232047256996" x2="440.7700543549113" y2="506.91767952743004" stroke="#111" stroke-width="1.03"/>
<line x1="443.02994564508873" y1="502.88232047257" x2="439.0700543549113" y2="505.71767952743005" stroke="#111" stroke-width="1.03"/>
<line x1="441.32994564508874" y1="501.68232047257" x2="437.3700543549113" y2="504.51767952743006" stroke="#111" stroke-width="1.03"/>
<g transform="rotate(-144.8 455.5 514.5)"><rect x="451.25" y="509.75" width="8.5" height="9.5" rx="2.9749999999999996" fill="#fff" stroke="#111" stroke-width="1.4"/><line x1="454.225" y1="510.25" x2="454.225" y2="518.75" stroke="#111" stroke-width="0.9"/><line x1="452.25" y1="513.36" x2="458.75" y2="513.36" stroke="#111" stroke-width="0.8"/><line x1="452.25" y1="516.59" x2="458.75" y2="516.59" stroke="#111" stroke-width="0.8"/></g>
<path d="M494.9,505 L514.5,496 Q520.5,495 522.2,500.5 L522.4,507.5 L494.6,514.4 Z" fill="#fff" stroke="#111" stroke-width="1.72" stroke-linejoin="round" stroke-linecap="round" />
<path d="M508.6,512.2 L522.4,507.5 L522.4,515 L508.8,520.3 Z" fill="#fff" stroke="#111" stroke-width="1.72" stroke-linejoin="round" stroke-linecap="round" />
<line x1="496.2" y1="505.3" x2="496" y2="513.6" stroke="#111" stroke-width="1.49"/>
<line x1="509.7" y1="512.5" x2="509.8" y2="519.8" stroke="#111" stroke-width="1.26"/>
<line x1="506.3" y1="501.8" x2="506.6" y2="510.6" stroke="#111" stroke-width="1.15"/>
<path d="M500,507 L504,505.3 L504.3,509.3 L500.3,511 Z" fill="#fff" stroke="#111" stroke-width="1.38" stroke-linejoin="round" stroke-linecap="round" />
<line x1="518.8" y1="498" x2="519.5" y2="506" stroke="#111" stroke-width="1.15"/>
<path d="M518.4800624611555,734.1862291434634 L490.7983415257343,717.3635755846383 L488.2016584742657,721.6364244153617 L515.8833794096868,738.4590779741868 Z" fill="#fff" stroke="#111" stroke-width="1.38" stroke-linejoin="round" stroke-linecap="round" />
<line x1="500.6046640053168" y1="723.3230448728732" x2="496.6406693280166" y2="726.7649551271268" stroke="#111" stroke-width="1.03"/>
<line x1="498.9459973386501" y1="722.3150448728732" x2="494.9820026613499" y2="725.7569551271267" stroke="#111" stroke-width="1.03"/>
<line x1="497.28733067198345" y1="721.3070448728732" x2="493.32333599468325" y2="724.7489551271268" stroke="#111" stroke-width="1.03"/>
<line x1="495.62866400531675" y1="720.2990448728732" x2="491.66466932801654" y2="723.7409551271268" stroke="#111" stroke-width="1.03"/>
<line x1="493.9699973386501" y1="719.2910448728732" x2="490.0060026613499" y2="722.7329551271267" stroke="#111" stroke-width="1.03"/>
<line x1="492.31133067198346" y1="718.2830448728732" x2="488.34733599468325" y2="721.7249551271268" stroke="#111" stroke-width="1.03"/>
<g transform="rotate(-148.7 520.6 738.4)"><rect x="515.6" y="732.9" width="10" height="11" rx="3.5" fill="#fff" stroke="#111" stroke-width="1.4"/><line x1="519.1" y1="733.4" x2="519.1" y2="743.4" stroke="#111" stroke-width="0.9"/><line x1="516.6" y1="737.0799999999999" x2="524.6" y2="737.0799999999999" stroke="#111" stroke-width="0.8"/><line x1="516.6" y1="740.8199999999999" x2="524.6" y2="740.8199999999999" stroke="#111" stroke-width="0.8"/></g>
<path d="M393.84645188783173,760.6033071915404 L365.7812248262267,743.8532669135031 L363.2187751737733,748.1467330864969 L391.2840022353783,764.896773364534 Z" fill="#fff" stroke="#111" stroke-width="1.38" stroke-linejoin="round" stroke-linecap="round" />
<line x1="374.9731794139057" y1="749.3392588578957" x2="371.0368205860943" y2="752.8127411421043" stroke="#111" stroke-width="1.03"/>
<line x1="373.0831794139057" y1="748.2112588578957" x2="369.1468205860943" y2="751.6847411421043" stroke="#111" stroke-width="1.03"/>
<line x1="371.19317941390574" y1="747.0832588578957" x2="367.2568205860943" y2="750.5567411421042" stroke="#111" stroke-width="1.03"/>
<line x1="369.3031794139057" y1="745.9552588578957" x2="365.36682058609426" y2="749.4287411421043" stroke="#111" stroke-width="1.03"/>
<line x1="367.4131794139057" y1="744.8272588578957" x2="363.4768205860943" y2="748.3007411421042" stroke="#111" stroke-width="1.03"/>
<g transform="rotate(-149.2 396 764.8)"><rect x="391.0" y="759.55" width="10" height="10.5" rx="3.5" fill="#fff" stroke="#111" stroke-width="1.4"/><line x1="394.5" y1="760.05" x2="394.5" y2="769.55" stroke="#111" stroke-width="0.9"/><line x1="392.0" y1="763.54" x2="400.0" y2="763.54" stroke="#111" stroke-width="0.8"/><line x1="392.0" y1="767.1099999999999" x2="400.0" y2="767.1099999999999" stroke="#111" stroke-width="0.8"/></g>
<text x="432.54" y="39.10" font-size="16.18" font-weight="bold" textLength="15.21" lengthAdjust="spacingAndGlyphs" stroke="#111" stroke-width="0.3">12</text>
<line x1="439.5" y1="43" x2="439" y2="57.5" stroke="#111" stroke-width="1.78"/>
<text x="491.73" y="71.00" font-size="15.99" font-weight="bold" textLength="13.61" lengthAdjust="spacingAndGlyphs" stroke="#111" stroke-width="0.3">11</text>
<line x1="471" y1="66" x2="489" y2="66" stroke="#111" stroke-width="1.78"/>
<text x="143.82" y="75.45" font-size="15.40" font-weight="bold" textLength="15.50" lengthAdjust="spacingAndGlyphs" stroke="#111" stroke-width="0.3">10</text>
<line x1="155.6" y1="78.75" x2="159.5" y2="85.8" stroke="#111" stroke-width="1.78"/>
<text x="116.52" y="85.80" font-size="15.75" font-weight="bold" textLength="13.78" lengthAdjust="spacingAndGlyphs" stroke="#111" stroke-width="0.3">12</text>
<line x1="126.7" y1="88.9" x2="129" y2="98.3" stroke="#111" stroke-width="1.78"/>
<text x="73.15" y="95.45" font-size="14.97" font-weight="bold" textLength="7.89" lengthAdjust="spacingAndGlyphs" stroke="#111" stroke-width="0.3">8</text>
<line x1="81.4" y1="98.3" x2="87.7" y2="110" stroke="#111" stroke-width="1.78"/>
<text x="102.03" y="101.75" font-size="15.04" font-weight="bold" textLength="7.46" lengthAdjust="spacingAndGlyphs" stroke="#111" stroke-width="0.3">9</text>
<line x1="109.4" y1="106.25" x2="113.75" y2="115" stroke="#111" stroke-width="1.78"/>
<text x="167.99" y="115.15" font-size="15.82" font-weight="bold" textLength="7.71" lengthAdjust="spacingAndGlyphs" stroke="#111" stroke-width="0.3">6</text>
<line x1="163.75" y1="112.5" x2="151.25" y2="119.5" stroke="#111" stroke-width="1.78"/>
<text x="184.96" y="123.34" font-size="16.05" font-weight="bold" textLength="7.94" lengthAdjust="spacingAndGlyphs" stroke="#111" stroke-width="0.3">5</text>
<line x1="182.5" y1="123.75" x2="167.5" y2="131.25" stroke="#111" stroke-width="1.78"/>
<text x="207.15" y="128.50" font-size="16.72" font-weight="bold" textLength="8.42" lengthAdjust="spacingAndGlyphs" stroke="#111" stroke-width="0.3">7</text>
<line x1="203.75" y1="126.25" x2="188.75" y2="134.5" stroke="#111" stroke-width="1.78"/>
<text x="271.10" y="125.33" font-size="14.94" font-weight="bold" textLength="7.27" lengthAdjust="spacingAndGlyphs" stroke="#111" stroke-width="0.3">3</text>
<line x1="270" y1="125" x2="255" y2="133.75" stroke="#111" stroke-width="1.78"/>
<text x="337.97" y="142.60" font-size="15.41" font-weight="bold" textLength="6.45" lengthAdjust="spacingAndGlyphs" stroke="#111" stroke-width="0.3">1</text>
<line x1="337.2" y1="143.4" x2="327.8" y2="152" stroke="#111" stroke-width="1.78"/>
<text x="364.31" y="165.80" font-size="15.41" font-weight="bold" textLength="6.85" lengthAdjust="spacingAndGlyphs" stroke="#111" stroke-width="0.3">4</text>
<line x1="363" y1="165.3" x2="352.8" y2="174" stroke="#111" stroke-width="1.78"/>
<text x="404.72" y="164.40" font-size="15.18" font-weight="bold" textLength="7.74" lengthAdjust="spacingAndGlyphs" stroke="#111" stroke-width="0.3">2</text>
<line x1="401.25" y1="166" x2="386.4" y2="174.7" stroke="#111" stroke-width="1.78"/>
<text x="484.19" y="169.24" font-size="13.95" font-weight="bold" textLength="14.27" lengthAdjust="spacingAndGlyphs" stroke="#111" stroke-width="0.3">13</text>
<line x1="465.7" y1="164.5" x2="481.2" y2="164.5" stroke="#111" stroke-width="1.78"/>
<text x="423.34" y="99.80" font-size="15.18" font-weight="bold" textLength="15.21" lengthAdjust="spacingAndGlyphs" stroke="#111" stroke-width="0.3">12</text>
<line x1="443.2" y1="94.8" x2="452" y2="94.8" stroke="#111" stroke-width="1.78"/>
<text x="148.93" y="204.35" font-size="15.62" font-weight="bold" textLength="15.35" lengthAdjust="spacingAndGlyphs" stroke="#111" stroke-width="0.3">15</text>
<line x1="158.75" y1="176.25" x2="158.75" y2="188.5" stroke="#111" stroke-width="1.78"/>
<text x="140.42" y="253.00" font-size="15.99" font-weight="bold" textLength="14.66" lengthAdjust="spacingAndGlyphs" stroke="#111" stroke-width="0.3">17</text>
<line x1="125" y1="235" x2="139" y2="242" stroke="#111" stroke-width="1.78"/>
<text x="192.08" y="249.80" font-size="15.61" font-weight="bold" textLength="13.56" lengthAdjust="spacingAndGlyphs" stroke="#111" stroke-width="0.3">21</text>
<line x1="209.7" y1="236" x2="213.6" y2="231" stroke="#111" stroke-width="1.78"/>
<text x="213.95" y="259.85" font-size="15.54" font-weight="bold" textLength="14.59" lengthAdjust="spacingAndGlyphs" stroke="#111" stroke-width="0.3">20</text>
<line x1="230.8" y1="247" x2="235.5" y2="240" stroke="#111" stroke-width="1.78"/>
<text x="82.39" y="286.45" font-size="15.68" font-weight="bold" textLength="14.34" lengthAdjust="spacingAndGlyphs" stroke="#111" stroke-width="0.3">19</text>
<line x1="91" y1="257" x2="91" y2="271" stroke="#111" stroke-width="1.78"/>
<text x="102.97" y="297.54" font-size="15.96" font-weight="bold" textLength="13.81" lengthAdjust="spacingAndGlyphs" stroke="#111" stroke-width="0.3">18</text>
<line x1="110.5" y1="268" x2="110.5" y2="282.9" stroke="#111" stroke-width="1.78"/>
<text x="492.13" y="290.34" font-size="15.96" font-weight="bold" textLength="15.37" lengthAdjust="spacingAndGlyphs" stroke="#111" stroke-width="0.3">16</text>
<line x1="472" y1="297" x2="493" y2="288.6" stroke="#111" stroke-width="1.78"/>
<text x="529.57" y="316.70" font-size="16.28" font-weight="bold" textLength="12.59" lengthAdjust="spacingAndGlyphs" stroke="#111" stroke-width="0.3">A</text>
<text x="502.09" y="370.80" font-size="15.84" font-weight="bold" textLength="14.28" lengthAdjust="spacingAndGlyphs" stroke="#111" stroke-width="0.3">14</text>
<line x1="481" y1="370" x2="501" y2="366" stroke="#111" stroke-width="1.78"/>
<text x="287.91" y="392.50" font-size="15.41" font-weight="bold" textLength="6.90" lengthAdjust="spacingAndGlyphs" stroke="#111" stroke-width="0.3">4</text>
<line x1="298.1" y1="383.1" x2="310" y2="377.25" stroke="#111" stroke-width="1.78"/>
<text x="514.99" y="448.60" font-size="15.84" font-weight="bold" textLength="9.83" lengthAdjust="spacingAndGlyphs" stroke="#111" stroke-width="0.3">B</text>
<text x="340.83" y="440.00" font-size="15.75" font-weight="bold" textLength="15.15" lengthAdjust="spacingAndGlyphs" stroke="#111" stroke-width="0.3">24</text>
<line x1="335.6" y1="436" x2="318.4" y2="443" stroke="#111" stroke-width="1.78"/>
<text x="426.32" y="457.40" font-size="15.25" font-weight="bold" textLength="15.33" lengthAdjust="spacingAndGlyphs" stroke="#111" stroke-width="0.3">22</text>
<line x1="422.3" y1="459.7" x2="404.2" y2="471.7" stroke="#111" stroke-width="1.78"/>
<text x="460.31" y="496.92" font-size="15.93" font-weight="bold" textLength="15.81" lengthAdjust="spacingAndGlyphs" stroke="#111" stroke-width="0.3">23</text>
<line x1="459.5" y1="498" x2="448.75" y2="504" stroke="#111" stroke-width="1.78"/>
<text x="533.45" y="488.46" font-size="14.69" font-weight="bold" textLength="14.52" lengthAdjust="spacingAndGlyphs" stroke="#111" stroke-width="0.3">26</text>
<line x1="530.6" y1="492.4" x2="523.5" y2="498.6" stroke="#111" stroke-width="1.78"/>
<text x="148.79" y="495.95" font-size="15.68" font-weight="bold" textLength="14.83" lengthAdjust="spacingAndGlyphs" stroke="#111" stroke-width="0.3">25</text>
<line x1="158.75" y1="506" x2="161.6" y2="516.6" stroke="#111" stroke-width="1.78"/>
<text x="506.64" y="555.05" font-size="15.40" font-weight="bold" textLength="14.65" lengthAdjust="spacingAndGlyphs" stroke="#111" stroke-width="0.3">29</text>
<line x1="489" y1="561" x2="502.5" y2="555" stroke="#111" stroke-width="1.78"/>
<text x="523.72" y="700.80" font-size="16.04" font-weight="bold" textLength="15.50" lengthAdjust="spacingAndGlyphs" stroke="#111" stroke-width="0.3">27</text>
<line x1="524" y1="706" x2="513" y2="725" stroke="#111" stroke-width="1.78"/>
<text x="345.92" y="769.55" font-size="15.82" font-weight="bold" textLength="15.30" lengthAdjust="spacingAndGlyphs" stroke="#111" stroke-width="0.3">28</text>
<line x1="361" y1="760.6" x2="372.5" y2="757" stroke="#111" stroke-width="1.78"/>
<text x="492.20" y="787.10" font-size="10.21" font-weight="bold" textLength="122.11" lengthAdjust="spacingAndGlyphs" stroke="#111" stroke-width="0.15">A = To Tell-Tale Hose</text>
<text x="491.68" y="799.75" font-size="10.84" font-weight="bold" textLength="120.23" lengthAdjust="spacingAndGlyphs" stroke="#111" stroke-width="0.15">B = To Adaptor Plate</text>
<text x="550.59" y="823.14" font-size="15.96" font-weight="normal" textLength="36.88" lengthAdjust="spacingAndGlyphs" stroke="#111" stroke-width="0.75">34778</text>
<g transform="rotate(0 9.2 750.7)"><path d="M9.2,750.7 L44.43849999999999,752.0500000000001 L44.43849999999999,764.35 L9.2,765.7 Z" fill="#fff" stroke="#111" stroke-width="1.4" stroke-linejoin="round"/><rect x="9.2" y="750.7" width="4.050000000000001" height="15" fill="#111"/><rect x="10.415" y="751.70" width="1.8225000000000005" height="1.0" fill="#fff"/><rect x="10.415" y="754.70" width="1.8225000000000005" height="1.0" fill="#fff"/><rect x="10.415" y="757.70" width="1.8225000000000005" height="1.0" fill="#fff"/><rect x="10.415" y="760.70" width="1.8225000000000005" height="1.0" fill="#fff"/><rect x="10.415" y="763.70" width="1.8225000000000005" height="1.0" fill="#fff"/><path d="M44.43849999999999,752.0500000000001 C47.631249999999994,752.0500000000001 50.82399999999999,755.0 50.82399999999999,755.5 L50.82399999999999,760.9000000000001 C50.82399999999999,761.4000000000001 47.631249999999994,764.35 44.43849999999999,764.35 Z" fill="#fff" stroke="#111" stroke-width="1.3" stroke-linejoin="round"/><path d="M45.93849999999999,752.85 C43.63849999999999,756.7 43.63849999999999,759.7 45.93849999999999,763.5500000000001" fill="none" stroke="#111" stroke-width="1.0"/><rect x="50.82399999999999" y="755.5" width="5.676000000000002" height="5.3999999999999995" rx="1.8899999999999997" fill="#fff" stroke="#111" stroke-width="1.5"/><text x="30.343099999999996" y="762.5" font-size="10" text-anchor="middle" font-weight="bold">9</text></g>
<g transform="rotate(0 11.6 771.3)"><path d="M11.6,771.3 L46.733,772.65 L46.733,784.9499999999999 L11.6,786.3 Z" fill="#fff" stroke="#111" stroke-width="1.4" stroke-linejoin="round"/><rect x="11.6" y="771.3" width="4.050000000000001" height="15" fill="#111"/><rect x="12.815" y="772.30" width="1.8225000000000005" height="1.0" fill="#fff"/><rect x="12.815" y="775.30" width="1.8225000000000005" height="1.0" fill="#fff"/><rect x="12.815" y="778.30" width="1.8225000000000005" height="1.0" fill="#fff"/><rect x="12.815" y="781.30" width="1.8225000000000005" height="1.0" fill="#fff"/><rect x="12.815" y="784.30" width="1.8225000000000005" height="1.0" fill="#fff"/><path d="M46.733,772.65 C50.07899999999999,772.65 53.425,775.525 53.425,776.025 L53.425,781.5749999999999 C53.425,782.0749999999999 50.07899999999999,784.9499999999999 46.733,784.9499999999999 Z" fill="#fff" stroke="#111" stroke-width="1.3" stroke-linejoin="round"/><path d="M48.233,773.4499999999999 C45.933,777.3 45.933,780.3 48.233,784.15" fill="none" stroke="#111" stroke-width="1.0"/><rect x="53.425" y="776.025" width="5.975000000000001" height="5.55" rx="1.9425" fill="#fff" stroke="#111" stroke-width="1.5"/><text x="32.67979999999999" y="781.7499999999999" font-size="9" text-anchor="middle" font-weight="bold">14</text></g>
<text x="65.60" y="762.92" font-size="11.96" font-weight="normal" textLength="204.55" lengthAdjust="spacingAndGlyphs" >Loctite PST Pipe Sealant (92-809822)</text>
<text x="67.99" y="783.85" font-size="11.80" font-weight="normal" textLength="196.86" lengthAdjust="spacingAndGlyphs" >2 Cycle Outboard Oil (92-13249A24)</text>
</svg></body></html>
